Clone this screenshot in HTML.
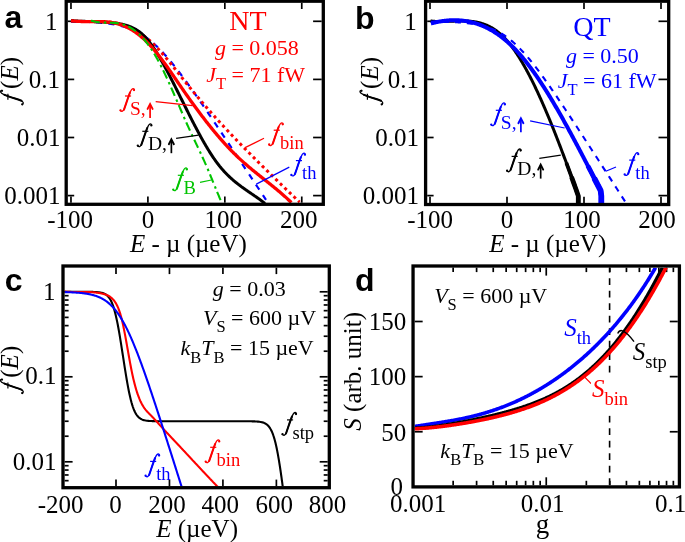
<!DOCTYPE html><html><head><meta charset="utf-8"><style>html,body{margin:0;padding:0;background:#fff;overflow:hidden}svg{display:block;will-change:transform}</style></head><body><svg width="685" height="542" viewBox="0 0 685 542"><line x1="67.80" y1="21.30" x2="74.20" y2="21.30" stroke="#000" stroke-width="1.7" /><line x1="313.10" y1="21.30" x2="321.70" y2="21.30" stroke="#000" stroke-width="1.7" /><line x1="67.80" y1="79.40" x2="74.20" y2="79.40" stroke="#000" stroke-width="1.7" /><line x1="313.10" y1="79.40" x2="321.70" y2="79.40" stroke="#000" stroke-width="1.7" /><line x1="67.80" y1="137.50" x2="74.20" y2="137.50" stroke="#000" stroke-width="1.7" /><line x1="313.10" y1="137.50" x2="321.70" y2="137.50" stroke="#000" stroke-width="1.7" /><line x1="67.80" y1="195.60" x2="74.20" y2="195.60" stroke="#000" stroke-width="1.7" /><line x1="313.10" y1="195.60" x2="321.70" y2="195.60" stroke="#000" stroke-width="1.7" /><line x1="70.97" y1="202.70" x2="70.97" y2="196.50" stroke="#000" stroke-width="1.7" /><line x1="70.97" y1="2.80" x2="70.97" y2="9.00" stroke="#000" stroke-width="1.7" /><line x1="147.90" y1="202.70" x2="147.90" y2="196.50" stroke="#000" stroke-width="1.7" /><line x1="147.90" y1="2.80" x2="147.90" y2="9.00" stroke="#000" stroke-width="1.7" /><line x1="224.83" y1="202.70" x2="224.83" y2="196.50" stroke="#000" stroke-width="1.7" /><line x1="224.83" y1="2.80" x2="224.83" y2="9.00" stroke="#000" stroke-width="1.7" /><line x1="301.76" y1="202.70" x2="301.76" y2="196.50" stroke="#000" stroke-width="1.7" /><line x1="301.76" y1="2.80" x2="301.76" y2="9.00" stroke="#000" stroke-width="1.7" /><path d="M71.00,21.55 L71.98,21.57 L72.96,21.58 L73.94,21.60 L74.92,21.62 L75.90,21.64 L76.88,21.66 L77.86,21.68 L78.84,21.70 L79.82,21.72 L80.80,21.75 L81.78,21.78 L82.76,21.80 L83.74,21.83 L84.72,21.87 L85.70,21.90 L86.68,21.94 L87.66,21.97 L88.64,22.01 L89.62,22.06 L90.60,22.10 L91.58,22.15 L92.56,22.20 L93.54,22.25 L94.52,22.31 L95.50,22.37 L96.48,22.43 L97.46,22.50 L98.44,22.57 L99.42,22.65 L100.40,22.73 L101.38,22.81 L102.36,22.90 L103.34,22.99 L104.32,23.09 L105.30,23.19 L106.28,23.30 L107.26,23.42 L108.24,23.54 L109.22,23.67 L110.20,23.81 L111.18,23.95 L112.16,24.10 L113.14,24.26 L114.12,24.43 L115.10,24.61 L116.08,24.80 L117.06,24.99 L118.04,25.20 L119.02,25.42 L119.99,25.65 L120.97,25.89 L121.95,26.14 L122.93,26.40 L123.91,26.68 L124.89,26.97 L125.87,27.28 L126.85,27.60 L127.83,27.93 L128.81,28.28 L129.79,28.65 L130.77,29.03 L131.75,29.43 L132.73,29.85 L133.71,30.28 L134.69,30.73 L135.67,31.21 L136.65,31.70 L137.63,32.21 L138.61,32.74 L139.59,33.28 L140.57,33.86 L141.55,34.45 L142.53,35.06 L143.51,35.69 L144.49,36.35 L145.47,37.02 L146.45,37.72 L147.43,38.44 L148.41,39.18 L149.39,39.94 L150.37,40.73 L151.35,41.53 L152.33,42.36 L153.31,43.21 L154.29,44.08 L155.27,44.97 L156.25,45.88 L157.23,46.81 L158.21,47.77 L159.19,48.74 L160.17,49.73 L161.15,50.74 L162.13,51.77 L163.11,52.82 L164.09,53.88 L165.07,54.97 L166.05,56.06 L167.03,57.18 L168.01,58.31 L168.99,59.46 L169.97,60.62 L170.95,61.80 L171.93,62.99 L172.91,64.19 L173.89,65.41 L174.87,66.64 L175.85,67.88 L176.83,69.13 L177.81,70.40 L178.79,71.67 L179.77,72.96 L180.75,74.25 L181.73,75.56 L182.71,76.87 L183.69,78.19 L184.67,79.52 L185.65,80.86 L186.63,82.20 L187.61,83.55 L188.59,84.91 L189.57,86.28 L190.55,87.65 L191.53,89.03 L192.51,90.41 L193.49,91.80 L194.47,93.19 L195.45,94.59 L196.43,95.99 L197.41,97.40 L198.39,98.81 L199.37,100.22 L200.35,101.64 L201.33,103.06 L202.31,104.49 L203.29,105.91 L204.27,107.34 L205.25,108.78 L206.23,110.21 L207.21,111.65 L208.19,113.09 L209.17,114.54 L210.15,115.98 L211.13,117.43 L212.11,118.88 L213.09,120.33 L214.07,121.78 L215.05,123.24 L216.03,124.69 L217.01,126.15 L217.98,127.61 L218.96,129.07 L219.94,130.53 L220.92,131.99 L221.90,133.45 L222.88,134.92 L223.86,136.38 L224.84,137.85 L225.82,139.32 L226.80,140.79 L227.78,142.25 L228.76,143.72 L229.74,145.19 L230.72,146.66 L231.70,148.13 L232.68,149.61 L233.66,151.08 L234.64,152.55 L235.62,154.02 L236.60,155.50 L237.58,156.97 L238.56,158.45 L239.54,159.92 L240.52,161.40 L241.50,162.87 L242.48,164.35 L243.46,165.82 L244.44,167.30 L245.42,168.78 L246.40,170.25 L247.38,171.73 L248.36,173.21 L249.34,174.69 L250.32,176.16 L251.30,177.64 L252.28,179.12 L253.26,180.60 L254.24,182.08 L255.22,183.56 L256.20,185.03 L257.18,186.51 L258.16,187.99 L259.14,189.47 L260.12,190.95 L261.10,192.43 L262.08,193.91 L263.06,195.39 L264.04,196.87 L265.02,198.35 L266.00,199.83" fill="none" stroke="#0000ff" stroke-width="2.2" stroke-linejoin="round" stroke-linecap="butt" stroke-dasharray="6 6.5" /><path d="M71.00,20.72 L71.57,20.79 L72.15,20.86 L72.72,20.93 L73.29,20.99 L73.86,21.05 L74.44,21.10 L75.01,21.15 L75.58,21.20 L76.16,21.24 L76.73,21.28 L77.30,21.32 L77.88,21.35 L78.45,21.38 L79.02,21.41 L79.59,21.43 L80.17,21.45 L80.74,21.47 L81.31,21.49 L81.89,21.50 L82.46,21.51 L83.03,21.52 L83.60,21.53 L84.18,21.54 L84.75,21.54 L85.32,21.55 L85.90,21.55 L86.47,21.55 L87.04,21.55 L87.62,21.55 L88.19,21.54 L88.76,21.54 L89.33,21.53 L89.91,21.53 L90.48,21.52 L91.05,21.52 L91.63,21.51 L92.20,21.51 L92.77,21.50 L93.34,21.50 L93.92,21.49 L94.49,21.49 L95.06,21.48 L95.64,21.48 L96.21,21.47 L96.78,21.47 L97.35,21.47 L97.93,21.47 L98.50,21.48 L99.07,21.48 L99.65,21.48 L100.22,21.49 L100.79,21.50 L101.37,21.51 L101.94,21.52 L102.51,21.54 L103.08,21.56 L103.66,21.58 L104.23,21.60 L104.80,21.62 L105.38,21.65 L105.95,21.68 L106.52,21.72 L107.09,21.75 L107.67,21.79 L108.24,21.84 L108.81,21.88 L109.39,21.93 L109.96,21.99 L110.53,22.05 L111.11,22.11 L111.68,22.18 L112.25,22.25 L112.82,22.32 L113.40,22.40 L113.97,22.49 L114.54,22.57 L115.12,22.67 L115.69,22.77 L116.26,22.87 L116.83,22.98 L117.41,23.09 L117.98,23.21 L118.55,23.34 L119.13,23.47 L119.70,23.60 L120.27,23.75 L120.85,23.90 L121.42,24.05 L121.99,24.21 L122.56,24.38 L123.14,24.55 L123.71,24.73 L124.28,24.92 L124.86,25.11 L125.43,25.31 L126.00,25.52 L126.57,25.74 L127.15,25.96 L127.72,26.19 L128.29,26.42 L128.87,26.67 L129.44,26.92 L130.01,27.18 L130.58,27.45 L131.16,27.73 L131.73,28.01 L132.30,28.30 L132.88,28.60 L133.45,28.91 L134.02,29.22 L134.60,29.54 L135.17,29.87 L135.74,30.21 L136.31,30.55 L136.89,30.90 L137.46,31.26 L138.03,31.63 L138.61,32.00 L139.18,32.38 L139.75,32.77 L140.32,33.17 L140.90,33.57 L141.47,33.98 L142.04,34.40 L142.62,34.82 L143.19,35.25 L143.76,35.69 L144.34,36.13 L144.91,36.59 L145.48,37.05 L146.05,37.51 L146.63,37.99 L147.20,38.47 L147.77,38.95 L148.35,39.45 L148.92,39.95 L149.49,40.45 L150.06,40.97 L150.64,41.49 L151.21,42.02 L151.78,42.55 L152.36,43.09 L152.93,43.64 L153.50,44.20 L154.08,44.76 L154.65,45.32 L155.22,45.90 L155.79,46.48 L156.37,47.07 L156.94,47.66 L157.51,48.26 L158.09,48.86 L158.66,49.48 L159.23,50.10 L159.80,50.72 L160.38,51.35 L160.95,51.99 L161.52,52.63 L162.10,53.27 L162.67,53.93 L163.24,54.58 L163.82,55.24 L164.39,55.91 L164.96,56.58 L165.53,57.26 L166.11,57.93 L166.68,58.62 L167.25,59.30 L167.83,59.99 L168.40,60.69 L168.97,61.39 L169.54,62.09 L170.12,62.79 L170.69,63.49 L171.26,64.20 L171.84,64.91 L172.41,65.63 L172.98,66.34 L173.55,67.06 L174.13,67.78 L174.70,68.50 L175.27,69.22 L175.85,69.94 L176.42,70.67 L176.99,71.39 L177.57,72.12 L178.14,72.85 L178.71,73.57 L179.28,74.30 L179.86,75.03 L180.43,75.75 L181.00,76.48 L181.58,77.21 L182.15,77.93 L182.72,78.66 L183.29,79.38 L183.87,80.11 L184.44,80.83 L185.01,81.55 L185.59,82.27 L186.16,82.99 L186.73,83.70 L187.31,84.41 L187.88,85.13 L188.45,85.84 L189.02,86.54 L189.60,87.25 L190.17,87.96 L190.74,88.66 L191.32,89.36 L191.89,90.06 L192.46,90.76 L193.03,91.45 L193.61,92.15 L194.18,92.84 L194.75,93.53 L195.33,94.22 L195.90,94.91 L196.47,95.60 L197.05,96.28 L197.62,96.96 L198.19,97.64 L198.76,98.32 L199.34,99.00 L199.91,99.68 L200.48,100.35 L201.06,101.03 L201.63,101.70 L202.20,102.37 L202.77,103.04 L203.35,103.71 L203.92,104.37 L204.49,105.04 L205.07,105.70 L205.64,106.36 L206.21,107.02 L206.78,107.68 L207.36,108.33 L207.93,108.99 L208.50,109.64 L209.08,110.30 L209.65,110.95 L210.22,111.60 L210.80,112.24 L211.37,112.89 L211.94,113.54 L212.51,114.18 L213.09,114.82 L213.66,115.47 L214.23,116.11 L214.81,116.74 L215.38,117.38 L215.95,118.02 L216.52,118.65 L217.10,119.29 L217.67,119.92 L218.24,120.55 L218.82,121.18 L219.39,121.81 L219.96,122.43 L220.54,123.06 L221.11,123.68 L221.68,124.31 L222.25,124.93 L222.83,125.55 L223.40,126.17 L223.97,126.79 L224.55,127.41 L225.12,128.02 L225.69,128.64 L226.26,129.25 L226.84,129.87 L227.41,130.48 L227.98,131.09 L228.56,131.70 L229.13,132.31 L229.70,132.91 L230.28,133.52 L230.85,134.12 L231.42,134.73 L231.99,135.33 L232.57,135.93 L233.14,136.54 L233.71,137.14 L234.29,137.73 L234.86,138.33 L235.43,138.93 L236.00,139.53 L236.58,140.12 L237.15,140.71 L237.72,141.31 L238.30,141.90 L238.87,142.49 L239.44,143.08 L240.02,143.67 L240.59,144.26 L241.16,144.85 L241.73,145.43 L242.31,146.02 L242.88,146.61 L243.45,147.19 L244.03,147.77 L244.60,148.36 L245.17,148.94 L245.74,149.52 L246.32,150.10 L246.89,150.68 L247.46,151.26 L248.04,151.84 L248.61,152.41 L249.18,152.99 L249.75,153.56 L250.33,154.14 L250.90,154.71 L251.47,155.29 L252.05,155.86 L252.62,156.43 L253.19,157.01 L253.77,157.58 L254.34,158.15 L254.91,158.72 L255.48,159.29 L256.06,159.86 L256.63,160.43 L257.20,161.00 L257.78,161.56 L258.35,162.13 L258.92,162.70 L259.49,163.27 L260.07,163.83 L260.64,164.40 L261.21,164.96 L261.79,165.53 L262.36,166.09 L262.93,166.66 L263.51,167.22 L264.08,167.79 L264.65,168.35 L265.22,168.91 L265.80,169.48 L266.37,170.04 L266.94,170.60 L267.52,171.16 L268.09,171.73 L268.66,172.29 L269.23,172.85 L269.81,173.41 L270.38,173.97 L270.95,174.53 L271.53,175.10 L272.10,175.66 L272.67,176.22 L273.25,176.78 L273.82,177.34 L274.39,177.90 L274.96,178.46 L275.54,179.02 L276.11,179.58 L276.68,180.14 L277.26,180.70 L277.83,181.26 L278.40,181.82 L278.97,182.38 L279.55,182.94 L280.12,183.49 L280.69,184.05 L281.27,184.61 L281.84,185.16 L282.41,185.72 L282.98,186.28 L283.56,186.83 L284.13,187.38 L284.70,187.94 L285.28,188.49 L285.85,189.04 L286.42,189.60 L287.00,190.15 L287.57,190.70 L288.14,191.25 L288.71,191.79 L289.29,192.34 L289.86,192.89 L290.43,193.44 L291.01,193.98 L291.58,194.53 L292.15,195.07 L292.72,195.61 L293.30,196.15 L293.87,196.69 L294.44,197.23 L295.02,197.77 L295.59,198.31 L296.16,198.85 L296.74,199.38 L297.31,199.92 L297.88,200.45 L298.45,200.98 L299.03,201.51 L299.60,202.04" fill="none" stroke="#ff0000" stroke-width="3.0" stroke-linejoin="round" stroke-linecap="butt" stroke-dasharray="3 3.3" /><path d="M71.00,20.69 L71.49,20.72 L71.97,20.76 L72.46,20.79 L72.94,20.83 L73.43,20.86 L73.92,20.89 L74.40,20.92 L74.89,20.95 L75.38,20.98 L75.86,21.01 L76.35,21.03 L76.83,21.06 L77.32,21.08 L77.81,21.10 L78.29,21.13 L78.78,21.15 L79.27,21.17 L79.75,21.19 L80.24,21.21 L80.72,21.23 L81.21,21.24 L81.70,21.26 L82.18,21.28 L82.67,21.29 L83.16,21.31 L83.64,21.33 L84.13,21.34 L84.61,21.36 L85.10,21.37 L85.59,21.38 L86.07,21.40 L86.56,21.41 L87.05,21.42 L87.53,21.44 L88.02,21.45 L88.50,21.46 L88.99,21.48 L89.48,21.49 L89.96,21.50 L90.45,21.51 L90.93,21.53 L91.42,21.54 L91.91,21.55 L92.39,21.57 L92.88,21.58 L93.37,21.60 L93.85,21.61 L94.34,21.63 L94.82,21.64 L95.31,21.66 L95.80,21.67 L96.28,21.69 L96.77,21.71 L97.26,21.73 L97.74,21.75 L98.23,21.76 L98.71,21.79 L99.20,21.81 L99.69,21.83 L100.17,21.85 L100.66,21.87 L101.15,21.90 L101.63,21.92 L102.12,21.95 L102.60,21.98 L103.09,22.00 L103.58,22.03 L104.06,22.06 L104.55,22.10 L105.04,22.13 L105.52,22.16 L106.01,22.20 L106.49,22.23 L106.98,22.27 L107.47,22.31 L107.95,22.35 L108.44,22.39 L108.92,22.44 L109.41,22.48 L109.90,22.53 L110.38,22.58 L110.87,22.63 L111.36,22.68 L111.84,22.73 L112.33,22.79 L112.81,22.85 L113.30,22.90 L113.79,22.96 L114.27,23.03 L114.76,23.09 L115.25,23.16 L115.73,23.23 L116.22,23.30 L116.70,23.37 L117.19,23.45 L117.68,23.52 L118.16,23.60 L118.65,23.68 L119.14,23.77 L119.62,23.85 L120.11,23.94 L120.59,24.03 L121.08,24.13 L121.57,24.22 L122.05,24.32 L122.54,24.42 L123.03,24.53 L123.51,24.64 L124.00,24.76 L124.48,24.88 L124.97,25.00 L125.46,25.13 L125.94,25.26 L126.43,25.40 L126.91,25.55 L127.40,25.69 L127.89,25.85 L128.37,26.01 L128.86,26.18 L129.35,26.36 L129.83,26.54 L130.32,26.73 L130.80,26.92 L131.29,27.12 L131.78,27.34 L132.26,27.55 L132.75,27.78 L133.24,28.02 L133.72,28.26 L134.21,28.51 L134.69,28.77 L135.18,29.05 L135.67,29.33 L136.15,29.62 L136.64,29.92 L137.13,30.23 L137.61,30.55 L138.10,30.88 L138.58,31.22 L139.07,31.57 L139.56,31.94 L140.04,32.31 L140.53,32.70 L141.02,33.10 L141.50,33.51 L141.99,33.94 L142.47,34.37 L142.96,34.82 L143.45,35.28 L143.93,35.76 L144.42,36.25 L144.90,36.75 L145.39,37.27 L145.88,37.80 L146.36,38.34 L146.85,38.90 L147.34,39.47 L147.82,40.05 L148.31,40.64 L148.79,41.25 L149.28,41.87 L149.77,42.50 L150.25,43.14 L150.74,43.80 L151.23,44.46 L151.71,45.14 L152.20,45.82 L152.68,46.52 L153.17,47.23 L153.66,47.95 L154.14,48.67 L154.63,49.41 L155.12,50.16 L155.60,50.91 L156.09,51.68 L156.57,52.45 L157.06,53.23 L157.55,54.03 L158.03,54.82 L158.52,55.63 L159.01,56.45 L159.49,57.27 L159.98,58.10 L160.46,58.94 L160.95,59.78 L161.44,60.63 L161.92,61.49 L162.41,62.35 L162.89,63.22 L163.38,64.10 L163.87,64.98 L164.35,65.87 L164.84,66.76 L165.33,67.66 L165.81,68.56 L166.30,69.47 L166.78,70.38 L167.27,71.30 L167.76,72.22 L168.24,73.14 L168.73,74.07 L169.22,75.00 L169.70,75.93 L170.19,76.87 L170.67,77.81 L171.16,78.75 L171.65,79.70 L172.13,80.65 L172.62,81.60 L173.11,82.55 L173.59,83.51 L174.08,84.47 L174.56,85.43 L175.05,86.39 L175.54,87.36 L176.02,88.32 L176.51,89.29 L176.99,90.26 L177.48,91.23 L177.97,92.20 L178.45,93.17 L178.94,94.15 L179.43,95.12 L179.91,96.09 L180.40,97.07 L180.88,98.05 L181.37,99.02 L181.86,100.00 L182.34,100.97 L182.83,101.95 L183.32,102.93 L183.80,103.90 L184.29,104.88 L184.77,105.85 L185.26,106.83 L185.75,107.80 L186.23,108.77 L186.72,109.74 L187.21,110.71 L187.69,111.68 L188.18,112.65 L188.66,113.61 L189.15,114.58 L189.64,115.54 L190.12,116.50 L190.61,117.46 L191.10,118.41 L191.58,119.37 L192.07,120.32 L192.55,121.27 L193.04,122.21 L193.53,123.15 L194.01,124.09 L194.50,125.03 L194.98,125.96 L195.47,126.89 L195.96,127.82 L196.44,128.74 L196.93,129.66 L197.42,130.58 L197.90,131.49 L198.39,132.40 L198.87,133.30 L199.36,134.20 L199.85,135.09 L200.33,135.98 L200.82,136.87 L201.31,137.75 L201.79,138.62 L202.28,139.49 L202.76,140.36 L203.25,141.22 L203.74,142.07 L204.22,142.92 L204.71,143.76 L205.20,144.60 L205.68,145.43 L206.17,146.25 L206.65,147.07 L207.14,147.88 L207.63,148.69 L208.11,149.49 L208.60,150.28 L209.09,151.06 L209.57,151.84 L210.06,152.61 L210.54,153.38 L211.03,154.13 L211.52,154.88 L212.00,155.62 L212.49,156.36 L212.97,157.08 L213.46,157.80 L213.95,158.51 L214.43,159.21 L214.92,159.90 L215.41,160.59 L215.89,161.26 L216.38,161.93 L216.86,162.59 L217.35,163.24 L217.84,163.88 L218.32,164.51 L218.81,165.13 L219.30,165.74 L219.78,166.35 L220.27,166.94 L220.75,167.53 L221.24,168.11 L221.73,168.68 L222.21,169.25 L222.70,169.80 L223.19,170.35 L223.67,170.89 L224.16,171.43 L224.64,171.95 L225.13,172.47 L225.62,172.98 L226.10,173.49 L226.59,173.99 L227.08,174.48 L227.56,174.97 L228.05,175.45 L228.53,175.92 L229.02,176.39 L229.51,176.85 L229.99,177.30 L230.48,177.75 L230.96,178.20 L231.45,178.64 L231.94,179.07 L232.42,179.50 L232.91,179.92 L233.40,180.34 L233.88,180.76 L234.37,181.17 L234.85,181.57 L235.34,181.97 L235.83,182.37 L236.31,182.76 L236.80,183.15 L237.29,183.53 L237.77,183.92 L238.26,184.29 L238.74,184.67 L239.23,185.04 L239.72,185.41 L240.20,185.77 L240.69,186.13 L241.18,186.49 L241.66,186.85 L242.15,187.20 L242.63,187.55 L243.12,187.90 L243.61,188.25 L244.09,188.60 L244.58,188.94 L245.07,189.28 L245.55,189.62 L246.04,189.96 L246.52,190.30 L247.01,190.64 L247.50,190.97 L247.98,191.31 L248.47,191.64 L248.95,191.97 L249.44,192.31 L249.93,192.64 L250.41,192.97 L250.90,193.30 L251.39,193.63 L251.87,193.97 L252.36,194.30 L252.84,194.63 L253.33,194.97 L253.82,195.30 L254.30,195.64 L254.79,195.97 L255.28,196.31 L255.76,196.65 L256.25,196.99 L256.73,197.33 L257.22,197.67 L257.71,198.02 L258.19,198.36 L258.68,198.71 L259.17,199.06 L259.65,199.41 L260.14,199.77 L260.62,200.13 L261.11,200.49 L261.60,200.85 L262.08,201.22 L262.57,201.59 L263.06,201.96 L263.54,202.34 L264.03,202.72 L264.51,203.10 L265.00,203.49" fill="none" stroke="#000" stroke-width="3.0" stroke-linejoin="round" stroke-linecap="butt" /><path d="M71.00,20.70 L71.55,20.77 L72.10,20.84 L72.66,20.91 L73.21,20.97 L73.76,21.03 L74.31,21.08 L74.87,21.13 L75.42,21.18 L75.97,21.22 L76.52,21.27 L77.08,21.30 L77.63,21.34 L78.18,21.37 L78.73,21.40 L79.29,21.42 L79.84,21.44 L80.39,21.47 L80.94,21.48 L81.50,21.50 L82.05,21.51 L82.60,21.53 L83.15,21.54 L83.70,21.54 L84.26,21.55 L84.81,21.56 L85.36,21.56 L85.91,21.56 L86.47,21.57 L87.02,21.57 L87.57,21.57 L88.12,21.57 L88.68,21.56 L89.23,21.56 L89.78,21.56 L90.33,21.56 L90.89,21.56 L91.44,21.55 L91.99,21.55 L92.54,21.55 L93.10,21.55 L93.65,21.55 L94.20,21.55 L94.75,21.55 L95.30,21.55 L95.86,21.55 L96.41,21.55 L96.96,21.56 L97.51,21.57 L98.07,21.57 L98.62,21.58 L99.17,21.59 L99.72,21.61 L100.28,21.62 L100.83,21.64 L101.38,21.66 L101.93,21.68 L102.49,21.70 L103.04,21.73 L103.59,21.76 L104.14,21.79 L104.70,21.83 L105.25,21.87 L105.80,21.91 L106.35,21.96 L106.90,22.00 L107.46,22.06 L108.01,22.11 L108.56,22.17 L109.11,22.24 L109.67,22.31 L110.22,22.38 L110.77,22.46 L111.32,22.54 L111.88,22.62 L112.43,22.72 L112.98,22.81 L113.53,22.91 L114.09,23.02 L114.64,23.13 L115.19,23.25 L115.74,23.37 L116.30,23.50 L116.85,23.63 L117.40,23.77 L117.95,23.91 L118.50,24.07 L119.06,24.22 L119.61,24.39 L120.16,24.56 L120.71,24.74 L121.27,24.92 L121.82,25.11 L122.37,25.31 L122.92,25.51 L123.48,25.73 L124.03,25.95 L124.58,26.17 L125.13,26.41 L125.69,26.65 L126.24,26.90 L126.79,27.16 L127.34,27.42 L127.90,27.70 L128.45,27.98 L129.00,28.27 L129.55,28.57 L130.10,28.88 L130.66,29.19 L131.21,29.52 L131.76,29.85 L132.31,30.19 L132.87,30.53 L133.42,30.89 L133.97,31.25 L134.52,31.62 L135.08,32.00 L135.63,32.39 L136.18,32.78 L136.73,33.18 L137.29,33.60 L137.84,34.01 L138.39,34.44 L138.94,34.87 L139.50,35.32 L140.05,35.77 L140.60,36.22 L141.15,36.69 L141.70,37.16 L142.26,37.64 L142.81,38.13 L143.36,38.63 L143.91,39.13 L144.47,39.64 L145.02,40.16 L145.57,40.69 L146.12,41.23 L146.68,41.77 L147.23,42.32 L147.78,42.88 L148.33,43.44 L148.89,44.02 L149.44,44.60 L149.99,45.18 L150.54,45.78 L151.10,46.38 L151.65,47.00 L152.20,47.61 L152.75,48.24 L153.30,48.87 L153.86,49.52 L154.41,50.16 L154.96,50.82 L155.51,51.48 L156.07,52.15 L156.62,52.83 L157.17,53.52 L157.72,54.21 L158.28,54.91 L158.83,55.61 L159.38,56.32 L159.93,57.04 L160.49,57.76 L161.04,58.48 L161.59,59.22 L162.14,59.96 L162.70,60.70 L163.25,61.45 L163.80,62.20 L164.35,62.95 L164.90,63.72 L165.46,64.48 L166.01,65.25 L166.56,66.02 L167.11,66.80 L167.67,67.58 L168.22,68.36 L168.77,69.14 L169.32,69.93 L169.88,70.72 L170.43,71.52 L170.98,72.31 L171.53,73.11 L172.09,73.91 L172.64,74.71 L173.19,75.51 L173.74,76.31 L174.30,77.12 L174.85,77.92 L175.40,78.73 L175.95,79.53 L176.50,80.34 L177.06,81.15 L177.61,81.95 L178.16,82.76 L178.71,83.57 L179.27,84.37 L179.82,85.18 L180.37,85.98 L180.92,86.78 L181.48,87.59 L182.03,88.39 L182.58,89.18 L183.13,89.98 L183.69,90.77 L184.24,91.57 L184.79,92.36 L185.34,93.15 L185.90,93.94 L186.45,94.72 L187.00,95.51 L187.55,96.29 L188.10,97.07 L188.66,97.85 L189.21,98.63 L189.76,99.40 L190.31,100.17 L190.87,100.94 L191.42,101.71 L191.97,102.48 L192.52,103.25 L193.08,104.01 L193.63,104.77 L194.18,105.53 L194.73,106.29 L195.29,107.04 L195.84,107.79 L196.39,108.54 L196.94,109.29 L197.50,110.04 L198.05,110.78 L198.60,111.52 L199.15,112.26 L199.70,113.00 L200.26,113.73 L200.81,114.47 L201.36,115.20 L201.91,115.92 L202.47,116.65 L203.02,117.37 L203.57,118.09 L204.12,118.81 L204.68,119.52 L205.23,120.24 L205.78,120.95 L206.33,121.65 L206.89,122.36 L207.44,123.06 L207.99,123.76 L208.54,124.46 L209.10,125.15 L209.65,125.84 L210.20,126.53 L210.75,127.22 L211.30,127.90 L211.86,128.58 L212.41,129.26 L212.96,129.94 L213.51,130.61 L214.07,131.28 L214.62,131.95 L215.17,132.61 L215.72,133.27 L216.28,133.93 L216.83,134.58 L217.38,135.24 L217.93,135.88 L218.49,136.53 L219.04,137.17 L219.59,137.81 L220.14,138.45 L220.70,139.08 L221.25,139.71 L221.80,140.34 L222.35,140.96 L222.90,141.58 L223.46,142.20 L224.01,142.82 L224.56,143.43 L225.11,144.03 L225.67,144.64 L226.22,145.24 L226.77,145.84 L227.32,146.43 L227.88,147.02 L228.43,147.61 L228.98,148.19 L229.53,148.78 L230.09,149.35 L230.64,149.93 L231.19,150.50 L231.74,151.06 L232.30,151.63 L232.85,152.18 L233.40,152.74 L233.95,153.29 L234.50,153.84 L235.06,154.39 L235.61,154.93 L236.16,155.46 L236.71,156.00 L237.27,156.53 L237.82,157.05 L238.37,157.58 L238.92,158.09 L239.48,158.61 L240.03,159.12 L240.58,159.63 L241.13,160.14 L241.69,160.64 L242.24,161.14 L242.79,161.64 L243.34,162.13 L243.90,162.62 L244.45,163.11 L245.00,163.59 L245.55,164.08 L246.10,164.56 L246.66,165.03 L247.21,165.51 L247.76,165.98 L248.31,166.45 L248.87,166.92 L249.42,167.39 L249.97,167.85 L250.52,168.31 L251.08,168.78 L251.63,169.23 L252.18,169.69 L252.73,170.15 L253.29,170.60 L253.84,171.05 L254.39,171.51 L254.94,171.96 L255.50,172.40 L256.05,172.85 L256.60,173.30 L257.15,173.74 L257.70,174.19 L258.26,174.63 L258.81,175.08 L259.36,175.52 L259.91,175.96 L260.47,176.40 L261.02,176.84 L261.57,177.28 L262.12,177.72 L262.68,178.16 L263.23,178.60 L263.78,179.04 L264.33,179.48 L264.89,179.92 L265.44,180.36 L265.99,180.80 L266.54,181.24 L267.10,181.68 L267.65,182.12 L268.20,182.56 L268.75,183.00 L269.30,183.44 L269.86,183.88 L270.41,184.33 L270.96,184.77 L271.51,185.22 L272.07,185.67 L272.62,186.11 L273.17,186.56 L273.72,187.01 L274.28,187.46 L274.83,187.92 L275.38,188.37 L275.93,188.83 L276.49,189.29 L277.04,189.75 L277.59,190.21 L278.14,190.67 L278.70,191.13 L279.25,191.60 L279.80,192.07 L280.35,192.54 L280.90,193.02 L281.46,193.49 L282.01,193.97 L282.56,194.45 L283.11,194.93 L283.67,195.42 L284.22,195.91 L284.77,196.40 L285.32,196.89 L285.88,197.39 L286.43,197.89 L286.98,198.39 L287.53,198.90 L288.09,199.41 L288.64,199.92 L289.19,200.44 L289.74,200.96 L290.30,201.48 L290.85,202.01 L291.40,202.54" fill="none" stroke="#ff0000" stroke-width="3.3" stroke-linejoin="round" stroke-linecap="butt" /><path d="M91.00,20.53 L91.33,20.64 L91.66,20.75 L91.98,20.85 L92.31,20.95 L92.64,21.04 L92.97,21.13 L93.30,21.22 L93.63,21.30 L93.95,21.38 L94.28,21.45 L94.61,21.53 L94.94,21.60 L95.27,21.66 L95.60,21.73 L95.92,21.79 L96.25,21.84 L96.58,21.90 L96.91,21.95 L97.24,22.00 L97.57,22.05 L97.89,22.09 L98.22,22.13 L98.55,22.17 L98.88,22.21 L99.21,22.25 L99.54,22.28 L99.86,22.31 L100.19,22.34 L100.52,22.37 L100.85,22.39 L101.18,22.42 L101.51,22.44 L101.83,22.46 L102.16,22.48 L102.49,22.50 L102.82,22.51 L103.15,22.53 L103.48,22.54 L103.80,22.56 L104.13,22.57 L104.46,22.58 L104.79,22.59 L105.12,22.60 L105.45,22.61 L105.77,22.62 L106.10,22.63 L106.43,22.64 L106.76,22.65 L107.09,22.66 L107.42,22.66 L107.74,22.67 L108.07,22.68 L108.40,22.69 L108.73,22.69 L109.06,22.70 L109.39,22.71 L109.71,22.72 L110.04,22.73 L110.37,22.74 L110.70,22.75 L111.03,22.76 L111.36,22.78 L111.68,22.79 L112.01,22.81 L112.34,22.82 L112.67,22.84 L113.00,22.86 L113.33,22.88 L113.65,22.90 L113.98,22.92 L114.31,22.94 L114.64,22.97 L114.97,23.00 L115.30,23.03 L115.62,23.06 L115.95,23.09 L116.28,23.12 L116.61,23.16 L116.94,23.20 L117.27,23.24 L117.59,23.29 L117.92,23.33 L118.25,23.38 L118.58,23.44 L118.91,23.49 L119.24,23.55 L119.56,23.61 L119.89,23.67 L120.22,23.74 L120.55,23.81 L120.88,23.88 L121.21,23.96 L121.53,24.03 L121.86,24.12 L122.19,24.20 L122.52,24.29 L122.85,24.39 L123.18,24.48 L123.50,24.59 L123.83,24.69 L124.16,24.80 L124.49,24.91 L124.82,25.03 L125.15,25.15 L125.47,25.28 L125.80,25.41 L126.13,25.54 L126.46,25.68 L126.79,25.82 L127.12,25.96 L127.44,26.11 L127.77,26.27 L128.10,26.43 L128.43,26.59 L128.76,26.76 L129.09,26.93 L129.41,27.10 L129.74,27.28 L130.07,27.47 L130.40,27.65 L130.73,27.85 L131.06,28.04 L131.38,28.24 L131.71,28.45 L132.04,28.66 L132.37,28.87 L132.70,29.09 L133.03,29.31 L133.35,29.54 L133.68,29.77 L134.01,30.01 L134.34,30.25 L134.67,30.49 L134.99,30.74 L135.32,31.00 L135.65,31.25 L135.98,31.52 L136.31,31.78 L136.64,32.06 L136.96,32.33 L137.29,32.61 L137.62,32.90 L137.95,33.19 L138.28,33.49 L138.61,33.79 L138.93,34.09 L139.26,34.40 L139.59,34.71 L139.92,35.03 L140.25,35.36 L140.58,35.68 L140.90,36.02 L141.23,36.35 L141.56,36.70 L141.89,37.04 L142.22,37.40 L142.55,37.75 L142.87,38.11 L143.20,38.48 L143.53,38.85 L143.86,39.23 L144.19,39.61 L144.52,39.99 L144.84,40.39 L145.17,40.78 L145.50,41.18 L145.83,41.59 L146.16,42.00 L146.49,42.42 L146.81,42.84 L147.14,43.26 L147.47,43.69 L147.80,44.13 L148.13,44.57 L148.46,45.02 L148.78,45.47 L149.11,45.92 L149.44,46.39 L149.77,46.85 L150.10,47.32 L150.43,47.80 L150.75,48.28 L151.08,48.77 L151.41,49.26 L151.74,49.76 L152.07,50.27 L152.40,50.77 L152.72,51.29 L153.05,51.81 L153.38,52.33 L153.71,52.86 L154.04,53.40 L154.37,53.94 L154.69,54.48 L155.02,55.04 L155.35,55.59 L155.68,56.15 L156.01,56.72 L156.34,57.30 L156.66,57.87 L156.99,58.46 L157.32,59.05 L157.65,59.64 L157.98,60.24 L158.31,60.85 L158.63,61.46 L158.96,62.07 L159.29,62.69 L159.62,63.32 L159.95,63.94 L160.28,64.58 L160.60,65.22 L160.93,65.86 L161.26,66.51 L161.59,67.16 L161.92,67.81 L162.25,68.47 L162.57,69.14 L162.90,69.81 L163.23,70.48 L163.56,71.15 L163.89,71.83 L164.22,72.51 L164.54,73.20 L164.87,73.89 L165.20,74.58 L165.53,75.28 L165.86,75.98 L166.19,76.68 L166.51,77.39 L166.84,78.10 L167.17,78.81 L167.50,79.53 L167.83,80.24 L168.16,80.96 L168.48,81.69 L168.81,82.41 L169.14,83.14 L169.47,83.87 L169.80,84.60 L170.13,85.34 L170.45,86.07 L170.78,86.81 L171.11,87.55 L171.44,88.29 L171.77,89.04 L172.10,89.78 L172.42,90.53 L172.75,91.28 L173.08,92.03 L173.41,92.78 L173.74,93.53 L174.07,94.29 L174.39,95.04 L174.72,95.80 L175.05,96.55 L175.38,97.31 L175.71,98.07 L176.04,98.83 L176.36,99.59 L176.69,100.35 L177.02,101.11 L177.35,101.87 L177.68,102.63 L178.01,103.40 L178.33,104.16 L178.66,104.92 L178.99,105.68 L179.32,106.44 L179.65,107.20 L179.97,107.97 L180.30,108.73 L180.63,109.49 L180.96,110.25 L181.29,111.01 L181.62,111.76 L181.94,112.52 L182.27,113.28 L182.60,114.03 L182.93,114.79 L183.26,115.54 L183.59,116.30 L183.91,117.05 L184.24,117.80 L184.57,118.55 L184.90,119.29 L185.23,120.04 L185.56,120.78 L185.88,121.52 L186.21,122.26 L186.54,123.00 L186.87,123.74 L187.20,124.47 L187.53,125.20 L187.85,125.93 L188.18,126.66 L188.51,127.39 L188.84,128.11 L189.17,128.83 L189.50,129.55 L189.82,130.26 L190.15,130.97 L190.48,131.68 L190.81,132.39 L191.14,133.09 L191.47,133.80 L191.79,134.50 L192.12,135.20 L192.45,135.90 L192.78,136.60 L193.11,137.29 L193.44,137.99 L193.76,138.68 L194.09,139.37 L194.42,140.07 L194.75,140.76 L195.08,141.45 L195.41,142.14 L195.73,142.83 L196.06,143.52 L196.39,144.21 L196.72,144.90 L197.05,145.59 L197.38,146.29 L197.70,146.98 L198.03,147.67 L198.36,148.37 L198.69,149.06 L199.02,149.76 L199.35,150.45 L199.67,151.15 L200.00,151.85 L200.33,152.55 L200.66,153.26 L200.99,153.96 L201.32,154.67 L201.64,155.38 L201.97,156.09 L202.30,156.81 L202.63,157.52 L202.96,158.24 L203.29,158.97 L203.61,159.69 L203.94,160.42 L204.27,161.15 L204.60,161.89 L204.93,162.63 L205.26,163.37 L205.58,164.12 L205.91,164.87 L206.24,165.62 L206.57,166.38 L206.90,167.14 L207.23,167.91 L207.55,168.68 L207.88,169.45 L208.21,170.23 L208.54,171.01 L208.87,171.79 L209.20,172.57 L209.52,173.36 L209.85,174.15 L210.18,174.94 L210.51,175.74 L210.84,176.53 L211.17,177.33 L211.49,178.13 L211.82,178.93 L212.15,179.73 L212.48,180.53 L212.81,181.33 L213.14,182.14 L213.46,182.94 L213.79,183.74 L214.12,184.55 L214.45,185.35 L214.78,186.15 L215.11,186.96 L215.43,187.76 L215.76,188.56 L216.09,189.36 L216.42,190.16 L216.75,190.96 L217.08,191.76 L217.40,192.55 L217.73,193.35 L218.06,194.14 L218.39,194.93 L218.72,195.72 L219.05,196.50 L219.37,197.28 L219.70,198.06 L220.03,198.84 L220.36,199.61 L220.69,200.38 L221.02,201.14 L221.34,201.91 L221.67,202.66 L222.00,203.42" fill="none" stroke="#00c400" stroke-width="2.1" stroke-linejoin="round" stroke-linecap="butt" stroke-dasharray="9 4 2.5 3.5" /><line x1="155.70" y1="101.60" x2="192.60" y2="105.70" stroke="#ff0000" stroke-width="1.2" /><line x1="176.10" y1="138.40" x2="198.60" y2="135.10" stroke="#000" stroke-width="1.2" /><line x1="200.00" y1="182.40" x2="211.40" y2="180.00" stroke="#00c400" stroke-width="1.2" /><line x1="245.10" y1="147.60" x2="264.00" y2="138.30" stroke="#ff0000" stroke-width="1.2" /><line x1="256.30" y1="184.10" x2="289.30" y2="167.10" stroke="#0000ff" stroke-width="1.2" /><rect x="66.2" y="1.2" width="257.1" height="203.10000000000002" fill="none" stroke="#000" stroke-width="3.3"/><text x="4.56" y="28.30" font-family="Liberation Sans" font-weight="bold" font-style="normal" font-size="32" fill="#000" xml:space="preserve">a</text><text x="45.00" y="29.80" font-family="Liberation Serif" font-weight="normal" font-style="normal" font-size="25" fill="#000" xml:space="preserve">1</text><text x="28.85" y="88.00" font-family="Liberation Serif" font-weight="normal" font-style="normal" font-size="25" fill="#000" xml:space="preserve">0.1</text><text x="16.65" y="146.20" font-family="Liberation Serif" font-weight="normal" font-style="normal" font-size="25" fill="#000" xml:space="preserve">0.01</text><text x="4.15" y="203.60" font-family="Liberation Serif" font-weight="normal" font-style="normal" font-size="25" fill="#000" xml:space="preserve">0.001</text><text x="47.27" y="227.90" font-family="Liberation Serif" font-weight="normal" font-style="normal" font-size="25" fill="#000" xml:space="preserve">-100</text><text x="141.75" y="227.90" font-family="Liberation Serif" font-weight="normal" font-style="normal" font-size="25" fill="#000" xml:space="preserve">0</text><text x="204.60" y="227.90" font-family="Liberation Serif" font-weight="normal" font-style="normal" font-size="25" fill="#000" xml:space="preserve">100</text><text x="279.90" y="227.90" font-family="Liberation Serif" font-weight="normal" font-style="normal" font-size="25" fill="#000" xml:space="preserve">200</text><text x="129.89" y="251.50" font-family="Liberation Serif" font-weight="normal" font-style="italic" font-size="25" fill="#000" xml:space="preserve">E</text><text x="145.16" y="251.50" font-family="Liberation Serif" font-weight="normal" font-style="normal" font-size="25" fill="#000" xml:space="preserve"> - µ (µeV)</text><g transform="translate(18,81.5) rotate(-90)"><g transform="translate(-24.30,0.50) scale(1.0)"><path d="M1.3,3.9 C2.6,5.4 4.3,4.9 5.3,2.2 C6.8,-2 9.5,-10.5 11.2,-14.5 C12.2,-16.9 13.2,-18 14.2,-18 C14.9,-18 15.4,-17.4 15.3,-16.6" fill="none" stroke="#000" stroke-width="1.3" stroke-linecap="round"/><path d="M5.0,3.0 C6.8,-2 9.5,-10.5 11.0,-14.0" fill="none" stroke="#000" stroke-width="2.0" stroke-linecap="round"/><circle cx="1.5" cy="3.7" r="1.15" fill="#000"/><circle cx="15.0" cy="-16.5" r="1.15" fill="#000"/><path d="M6.0,-10.6 L12.1,-10.6" stroke="#000" stroke-width="1.2"/></g><text x="-7.40" y="0.00" font-family="Liberation Serif" font-weight="normal" font-style="normal" font-size="25" fill="#000" xml:space="preserve">(</text><text x="0.93" y="0.00" font-family="Liberation Serif" font-weight="normal" font-style="italic" font-size="25" fill="#000" xml:space="preserve">E</text><text x="16.20" y="0.00" font-family="Liberation Serif" font-weight="normal" font-style="normal" font-size="25" fill="#000" xml:space="preserve">)</text></g><text x="229.29" y="30.30" font-family="Liberation Serif" font-weight="normal" font-style="normal" font-size="28" fill="#ff0000" xml:space="preserve">NT</text><text x="214.89" y="55.40" font-family="Liberation Serif" font-weight="normal" font-style="italic" font-size="22" fill="#ff0000" xml:space="preserve">g</text><text x="225.89" y="55.40" font-family="Liberation Serif" font-weight="normal" font-style="normal" font-size="22" fill="#ff0000" xml:space="preserve"> = 0.058</text><text x="206.17" y="82.20" font-family="Liberation Serif" font-weight="normal" font-style="italic" font-size="22" fill="#ff0000" xml:space="preserve">J</text><text x="215.93" y="88.70" font-family="Liberation Serif" font-weight="normal" font-style="normal" font-size="16.5" fill="#ff0000" xml:space="preserve">T</text><text x="226.01" y="82.20" font-family="Liberation Serif" font-weight="normal" font-style="normal" font-size="22" fill="#ff0000" xml:space="preserve"> = 71 fW</text><g transform="translate(119.00,106.60) scale(1.0)"><path d="M1.3,3.9 C2.6,5.4 4.3,4.9 5.3,2.2 C6.8,-2 9.5,-10.5 11.2,-14.5 C12.2,-16.9 13.2,-18 14.2,-18 C14.9,-18 15.4,-17.4 15.3,-16.6" fill="none" stroke="#ff0000" stroke-width="1.3" stroke-linecap="round"/><path d="M5.0,3.0 C6.8,-2 9.5,-10.5 11.0,-14.0" fill="none" stroke="#ff0000" stroke-width="2.0" stroke-linecap="round"/><circle cx="1.5" cy="3.7" r="1.15" fill="#ff0000"/><circle cx="15.0" cy="-16.5" r="1.15" fill="#ff0000"/><path d="M6.0,-10.6 L12.1,-10.6" stroke="#ff0000" stroke-width="1.2"/></g><text x="130.00" y="114.60" font-family="Liberation Serif" font-weight="normal" font-style="normal" font-size="19.5" fill="#ff0000" xml:space="preserve">S,</text><path d="M150.09,117.90 L150.09,104.70" stroke="#ff0000" stroke-width="1.7" fill="none"/><path d="M147.59,108.90 L150.09,104.00 L152.59,108.90" stroke="#ff0000" stroke-width="1.9" fill="none" stroke-linejoin="miter" stroke-linecap="round"/><g transform="translate(136.30,141.90) scale(1.0)"><path d="M1.3,3.9 C2.6,5.4 4.3,4.9 5.3,2.2 C6.8,-2 9.5,-10.5 11.2,-14.5 C12.2,-16.9 13.2,-18 14.2,-18 C14.9,-18 15.4,-17.4 15.3,-16.6" fill="none" stroke="#000" stroke-width="1.3" stroke-linecap="round"/><path d="M5.0,3.0 C6.8,-2 9.5,-10.5 11.0,-14.0" fill="none" stroke="#000" stroke-width="2.0" stroke-linecap="round"/><circle cx="1.5" cy="3.7" r="1.15" fill="#000"/><circle cx="15.0" cy="-16.5" r="1.15" fill="#000"/><path d="M6.0,-10.6 L12.1,-10.6" stroke="#000" stroke-width="1.2"/></g><text x="148.04" y="149.90" font-family="Liberation Serif" font-weight="normal" font-style="normal" font-size="19.5" fill="#000" xml:space="preserve">D,</text><path d="M171.37,153.20 L171.37,140.00" stroke="#000" stroke-width="1.7" fill="none"/><path d="M168.87,144.20 L171.37,139.30 L173.87,144.20" stroke="#000" stroke-width="1.9" fill="none" stroke-linejoin="miter" stroke-linecap="round"/><g transform="translate(171.80,185.90) scale(1.0)"><path d="M1.3,3.9 C2.6,5.4 4.3,4.9 5.3,2.2 C6.8,-2 9.5,-10.5 11.2,-14.5 C12.2,-16.9 13.2,-18 14.2,-18 C14.9,-18 15.4,-17.4 15.3,-16.6" fill="none" stroke="#00c400" stroke-width="1.3" stroke-linecap="round"/><path d="M5.0,3.0 C6.8,-2 9.5,-10.5 11.0,-14.0" fill="none" stroke="#00c400" stroke-width="2.0" stroke-linecap="round"/><circle cx="1.5" cy="3.7" r="1.15" fill="#00c400"/><circle cx="15.0" cy="-16.5" r="1.15" fill="#00c400"/><path d="M6.0,-10.6 L12.1,-10.6" stroke="#00c400" stroke-width="1.2"/></g><text x="183.57" y="193.90" font-family="Liberation Serif" font-weight="normal" font-style="normal" font-size="18.5" fill="#00c400" xml:space="preserve">B</text><g transform="translate(267.70,140.80) scale(1.0)"><path d="M1.3,3.9 C2.6,5.4 4.3,4.9 5.3,2.2 C6.8,-2 9.5,-10.5 11.2,-14.5 C12.2,-16.9 13.2,-18 14.2,-18 C14.9,-18 15.4,-17.4 15.3,-16.6" fill="none" stroke="#ff0000" stroke-width="1.3" stroke-linecap="round"/><path d="M5.0,3.0 C6.8,-2 9.5,-10.5 11.0,-14.0" fill="none" stroke="#ff0000" stroke-width="2.0" stroke-linecap="round"/><circle cx="1.5" cy="3.7" r="1.15" fill="#ff0000"/><circle cx="15.0" cy="-16.5" r="1.15" fill="#ff0000"/><path d="M6.0,-10.6 L12.1,-10.6" stroke="#ff0000" stroke-width="1.2"/></g><text x="280.00" y="148.80" font-family="Liberation Serif" font-weight="normal" font-style="normal" font-size="18.5" fill="#ff0000" xml:space="preserve">bin</text><g transform="translate(289.90,171.20) scale(1.0)"><path d="M1.3,3.9 C2.6,5.4 4.3,4.9 5.3,2.2 C6.8,-2 9.5,-10.5 11.2,-14.5 C12.2,-16.9 13.2,-18 14.2,-18 C14.9,-18 15.4,-17.4 15.3,-16.6" fill="none" stroke="#0000ff" stroke-width="1.3" stroke-linecap="round"/><path d="M5.0,3.0 C6.8,-2 9.5,-10.5 11.0,-14.0" fill="none" stroke="#0000ff" stroke-width="2.0" stroke-linecap="round"/><circle cx="1.5" cy="3.7" r="1.15" fill="#0000ff"/><circle cx="15.0" cy="-16.5" r="1.15" fill="#0000ff"/><path d="M6.0,-10.6 L12.1,-10.6" stroke="#0000ff" stroke-width="1.2"/></g><text x="302.02" y="179.20" font-family="Liberation Serif" font-weight="normal" font-style="normal" font-size="18.5" fill="#0000ff" xml:space="preserve">th</text><line x1="427.20" y1="21.30" x2="433.60" y2="21.30" stroke="#000" stroke-width="1.7" /><line x1="658.50" y1="21.30" x2="667.10" y2="21.30" stroke="#000" stroke-width="1.7" /><line x1="427.20" y1="79.40" x2="433.60" y2="79.40" stroke="#000" stroke-width="1.7" /><line x1="658.50" y1="79.40" x2="667.10" y2="79.40" stroke="#000" stroke-width="1.7" /><line x1="427.20" y1="137.50" x2="433.60" y2="137.50" stroke="#000" stroke-width="1.7" /><line x1="658.50" y1="137.50" x2="667.10" y2="137.50" stroke="#000" stroke-width="1.7" /><line x1="427.20" y1="195.60" x2="433.60" y2="195.60" stroke="#000" stroke-width="1.7" /><line x1="658.50" y1="195.60" x2="667.10" y2="195.60" stroke="#000" stroke-width="1.7" /><line x1="430.00" y1="202.90" x2="430.00" y2="196.70" stroke="#000" stroke-width="1.7" /><line x1="430.00" y1="2.80" x2="430.00" y2="9.00" stroke="#000" stroke-width="1.7" /><line x1="507.00" y1="202.90" x2="507.00" y2="196.70" stroke="#000" stroke-width="1.7" /><line x1="507.00" y1="2.80" x2="507.00" y2="9.00" stroke="#000" stroke-width="1.7" /><line x1="584.00" y1="202.90" x2="584.00" y2="196.70" stroke="#000" stroke-width="1.7" /><line x1="584.00" y1="2.80" x2="584.00" y2="9.00" stroke="#000" stroke-width="1.7" /><line x1="661.00" y1="202.90" x2="661.00" y2="196.70" stroke="#000" stroke-width="1.7" /><line x1="661.00" y1="2.80" x2="661.00" y2="9.00" stroke="#000" stroke-width="1.7" /><path d="M430.50,20.93 L430.87,20.98 L431.24,21.03 L431.61,21.07 L431.98,21.11 L432.35,21.15 L432.72,21.19 L433.09,21.22 L433.46,21.26 L433.83,21.29 L434.20,21.32 L434.57,21.34 L434.94,21.37 L435.31,21.39 L435.68,21.42 L436.05,21.44 L436.42,21.46 L436.79,21.47 L437.16,21.49 L437.53,21.50 L437.90,21.51 L438.27,21.52 L438.64,21.53 L439.01,21.54 L439.38,21.55 L439.75,21.55 L440.12,21.56 L440.49,21.56 L440.86,21.56 L441.24,21.56 L441.61,21.56 L441.98,21.56 L442.35,21.56 L442.72,21.55 L443.09,21.55 L443.46,21.54 L443.83,21.53 L444.20,21.53 L444.57,21.52 L444.94,21.51 L445.31,21.50 L445.68,21.49 L446.05,21.48 L446.42,21.46 L446.79,21.45 L447.16,21.44 L447.53,21.42 L447.90,21.41 L448.27,21.40 L448.64,21.38 L449.01,21.37 L449.38,21.35 L449.75,21.33 L450.12,21.32 L450.49,21.30 L450.86,21.29 L451.23,21.27 L451.60,21.25 L451.97,21.24 L452.34,21.22 L452.71,21.20 L453.08,21.19 L453.45,21.17 L453.82,21.15 L454.19,21.14 L454.56,21.12 L454.93,21.11 L455.30,21.09 L455.67,21.08 L456.04,21.06 L456.41,21.05 L456.78,21.04 L457.15,21.02 L457.52,21.01 L457.89,21.00 L458.26,20.99 L458.63,20.98 L459.00,20.97 L459.37,20.96 L459.74,20.95 L460.11,20.95 L460.48,20.94 L460.85,20.93 L461.22,20.93 L461.59,20.93 L461.96,20.92 L462.34,20.92 L462.71,20.92 L463.08,20.93 L463.45,20.93 L463.82,20.93 L464.19,20.94 L464.56,20.94 L464.93,20.95 L465.30,20.96 L465.67,20.97 L466.04,20.98 L466.41,21.00 L466.78,21.01 L467.15,21.03 L467.52,21.05 L467.89,21.07 L468.26,21.09 L468.63,21.11 L469.00,21.14 L469.37,21.16 L469.74,21.19 L470.11,21.22 L470.48,21.26 L470.85,21.29 L471.22,21.33 L471.59,21.37 L471.96,21.41 L472.33,21.45 L472.70,21.50 L473.07,21.54 L473.44,21.59 L473.81,21.65 L474.18,21.70 L474.55,21.76 L474.92,21.82 L475.29,21.88 L475.66,21.95 L476.03,22.01 L476.40,22.08 L476.77,22.15 L477.14,22.23 L477.51,22.31 L477.88,22.39 L478.25,22.47 L478.62,22.56 L478.99,22.65 L479.36,22.74 L479.73,22.83 L480.10,22.93 L480.47,23.03 L480.84,23.14 L481.21,23.24 L481.58,23.35 L481.95,23.47 L482.32,23.58 L482.69,23.70 L483.06,23.83 L483.44,23.95 L483.81,24.08 L484.18,24.22 L484.55,24.35 L484.92,24.50 L485.29,24.64 L485.66,24.79 L486.03,24.94 L486.40,25.09 L486.77,25.25 L487.14,25.41 L487.51,25.58 L487.88,25.75 L488.25,25.92 L488.62,26.10 L488.99,26.28 L489.36,26.47 L489.73,26.66 L490.10,26.85 L490.47,27.05 L490.84,27.25 L491.21,27.46 L491.58,27.67 L491.95,27.89 L492.32,28.10 L492.69,28.33 L493.06,28.56 L493.43,28.79 L493.80,29.02 L494.17,29.27 L494.54,29.51 L494.91,29.76 L495.28,30.02 L495.65,30.28 L496.02,30.54 L496.39,30.81 L496.76,31.08 L497.13,31.36 L497.50,31.65 L497.87,31.93 L498.24,32.23 L498.61,32.53 L498.98,32.83 L499.35,33.14 L499.72,33.45 L500.09,33.77 L500.46,34.10 L500.83,34.42 L501.20,34.76 L501.57,35.10 L501.94,35.44 L502.31,35.79 L502.68,36.15 L503.05,36.51 L503.42,36.88 L503.79,37.25 L504.16,37.63 L504.54,38.01 L504.91,38.40 L505.28,38.80 L505.65,39.20 L506.02,39.60 L506.39,40.01 L506.76,40.43 L507.13,40.85 L507.50,41.28 L507.87,41.71 L508.24,42.15 L508.61,42.60 L508.98,43.05 L509.35,43.50 L509.72,43.96 L510.09,44.43 L510.46,44.90 L510.83,45.37 L511.20,45.86 L511.57,46.34 L511.94,46.83 L512.31,47.33 L512.68,47.83 L513.05,48.34 L513.42,48.85 L513.79,49.37 L514.16,49.89 L514.53,50.42 L514.90,50.95 L515.27,51.49 L515.64,52.03 L516.01,52.58 L516.38,53.13 L516.75,53.69 L517.12,54.25 L517.49,54.81 L517.86,55.39 L518.23,55.96 L518.60,56.54 L518.97,57.13 L519.34,57.72 L519.71,58.31 L520.08,58.91 L520.45,59.52 L520.82,60.13 L521.19,60.74 L521.56,61.36 L521.93,61.98 L522.30,62.61 L522.67,63.24 L523.04,63.88 L523.41,64.52 L523.78,65.16 L524.15,65.81 L524.52,66.47 L524.89,67.13 L525.26,67.79 L525.64,68.45 L526.01,69.13 L526.38,69.80 L526.75,70.48 L527.12,71.17 L527.49,71.85 L527.86,72.55 L528.23,73.24 L528.60,73.94 L528.97,74.65 L529.34,75.36 L529.71,76.07 L530.08,76.79 L530.45,77.51 L530.82,78.23 L531.19,78.96 L531.56,79.69 L531.93,80.43 L532.30,81.17 L532.67,81.92 L533.04,82.66 L533.41,83.42 L533.78,84.17 L534.15,84.93 L534.52,85.70 L534.89,86.46 L535.26,87.23 L535.63,88.01 L536.00,88.79 L536.37,89.57 L536.74,90.35 L537.11,91.14 L537.48,91.94 L537.85,92.73 L538.22,93.53 L538.59,94.33 L538.96,95.14 L539.33,95.95 L539.70,96.76 L540.07,97.58 L540.44,98.40 L540.81,99.23 L541.18,100.05 L541.55,100.88 L541.92,101.72 L542.29,102.55 L542.66,103.39 L543.03,104.24 L543.40,105.08 L543.77,105.93 L544.14,106.79 L544.51,107.64 L544.88,108.50 L545.25,109.36 L545.62,110.23 L545.99,111.10 L546.36,111.97 L546.74,112.84 L547.11,113.72 L547.48,114.60 L547.85,115.48 L548.22,116.37 L548.59,117.26 L548.96,118.15 L549.33,119.04 L549.70,119.94 L550.07,120.84 L550.44,121.74 L550.81,122.65 L551.18,123.56 L551.55,124.47 L551.92,125.38 L552.29,126.30 L552.66,127.21 L553.03,128.14 L553.40,129.06 L553.77,129.99 L554.14,130.91 L554.51,131.85 L554.88,132.78 L555.25,133.72 L555.62,134.65 L555.99,135.60 L556.36,136.54 L556.73,137.49 L557.10,138.43 L557.47,139.38 L557.84,140.34 L558.21,141.29 L558.58,142.25 L558.95,143.21 L559.32,144.17 L559.69,145.13 L560.06,146.10 L560.43,147.07 L560.80,148.04 L561.17,149.01 L561.54,149.98 L561.91,150.96 L562.28,151.94 L562.65,152.92 L563.02,153.90 L563.39,154.88 L563.76,155.87 L564.13,156.86 L564.50,157.85 L564.87,158.84 L565.24,159.83 L565.61,160.83 L565.98,161.82 L566.35,162.82 L566.72,163.82 L567.09,164.82 L567.46,165.83 L567.84,166.83 L568.21,167.84 L568.58,168.85 L568.95,169.86 L569.32,170.87 L569.69,171.88 L570.06,172.90 L570.43,173.91 L570.80,174.93 L571.17,175.95 L571.54,176.97 L571.91,177.99 L572.28,179.02 L572.65,180.04 L573.02,181.07 L573.39,182.09 L573.76,183.12 L574.13,184.15 L574.50,185.18 L574.87,186.21 L575.24,187.25 L575.61,188.28 L575.98,189.32 L576.35,190.35 L576.72,191.39 L577.09,192.43 L577.46,193.47 L577.83,194.51 L578.20,195.55" fill="none" stroke="#000" stroke-width="3.0" stroke-linejoin="round" stroke-linecap="butt" /><path d="M430.90,23.49 L431.33,23.38 L431.76,23.27 L432.18,23.16 L432.61,23.05 L433.04,22.95 L433.47,22.84 L433.89,22.74 L434.32,22.64 L434.75,22.54 L435.18,22.44 L435.60,22.35 L436.03,22.25 L436.46,22.16 L436.89,22.07 L437.31,21.99 L437.74,21.90 L438.17,21.82 L438.60,21.74 L439.02,21.66 L439.45,21.58 L439.88,21.50 L440.31,21.43 L440.73,21.36 L441.16,21.29 L441.59,21.22 L442.02,21.16 L442.44,21.09 L442.87,21.03 L443.30,20.97 L443.73,20.92 L444.15,20.86 L444.58,20.81 L445.01,20.76 L445.44,20.71 L445.86,20.66 L446.29,20.62 L446.72,20.58 L447.15,20.54 L447.58,20.50 L448.00,20.47 L448.43,20.43 L448.86,20.40 L449.29,20.37 L449.71,20.35 L450.14,20.32 L450.57,20.30 L451.00,20.28 L451.42,20.26 L451.85,20.25 L452.28,20.24 L452.71,20.23 L453.13,20.22 L453.56,20.21 L453.99,20.21 L454.42,20.21 L454.84,20.21 L455.27,20.21 L455.70,20.22 L456.13,20.23 L456.55,20.24 L456.98,20.25 L457.41,20.27 L457.84,20.28 L458.26,20.31 L458.69,20.33 L459.12,20.35 L459.55,20.38 L459.97,20.41 L460.40,20.45 L460.83,20.48 L461.26,20.52 L461.68,20.56 L462.11,20.60 L462.54,20.65 L462.97,20.70 L463.40,20.75 L463.82,20.80 L464.25,20.86 L464.68,20.92 L465.11,20.98 L465.53,21.04 L465.96,21.11 L466.39,21.18 L466.82,21.25 L467.24,21.33 L467.67,21.41 L468.10,21.49 L468.53,21.57 L468.95,21.65 L469.38,21.74 L469.81,21.83 L470.24,21.93 L470.66,22.02 L471.09,22.12 L471.52,22.23 L471.95,22.33 L472.37,22.44 L472.80,22.55 L473.23,22.66 L473.66,22.78 L474.08,22.90 L474.51,23.02 L474.94,23.15 L475.37,23.27 L475.79,23.41 L476.22,23.54 L476.65,23.68 L477.08,23.82 L477.51,23.96 L477.93,24.10 L478.36,24.25 L478.79,24.40 L479.22,24.56 L479.64,24.71 L480.07,24.88 L480.50,25.04 L480.93,25.21 L481.35,25.37 L481.78,25.55 L482.21,25.72 L482.64,25.90 L483.06,26.08 L483.49,26.27 L483.92,26.46 L484.35,26.65 L484.77,26.84 L485.20,27.04 L485.63,27.24 L486.06,27.44 L486.48,27.65 L486.91,27.86 L487.34,28.07 L487.77,28.29 L488.19,28.51 L488.62,28.73 L489.05,28.96 L489.48,29.19 L489.90,29.42 L490.33,29.65 L490.76,29.89 L491.19,30.13 L491.61,30.38 L492.04,30.63 L492.47,30.88 L492.90,31.14 L493.33,31.40 L493.75,31.66 L494.18,31.92 L494.61,32.19 L495.04,32.46 L495.46,32.74 L495.89,33.02 L496.32,33.30 L496.75,33.59 L497.17,33.88 L497.60,34.17 L498.03,34.47 L498.46,34.77 L498.88,35.07 L499.31,35.38 L499.74,35.69 L500.17,36.00 L500.59,36.32 L501.02,36.64 L501.45,36.96 L501.88,37.29 L502.30,37.62 L502.73,37.96 L503.16,38.29 L503.59,38.64 L504.01,38.98 L504.44,39.33 L504.87,39.68 L505.30,40.04 L505.72,40.40 L506.15,40.77 L506.58,41.13 L507.01,41.50 L507.43,41.88 L507.86,42.26 L508.29,42.64 L508.72,43.03 L509.15,43.42 L509.57,43.81 L510.00,44.21 L510.43,44.61 L510.86,45.01 L511.28,45.42 L511.71,45.83 L512.14,46.25 L512.57,46.67 L512.99,47.09 L513.42,47.52 L513.85,47.95 L514.28,48.39 L514.70,48.83 L515.13,49.27 L515.56,49.72 L515.99,50.17 L516.41,50.62 L516.84,51.08 L517.27,51.54 L517.70,52.01 L518.12,52.48 L518.55,52.96 L518.98,53.43 L519.41,53.92 L519.83,54.40 L520.26,54.89 L520.69,55.39 L521.12,55.88 L521.54,56.38 L521.97,56.89 L522.40,57.40 L522.83,57.91 L523.25,58.42 L523.68,58.94 L524.11,59.46 L524.54,59.99 L524.97,60.52 L525.39,61.05 L525.82,61.59 L526.25,62.13 L526.68,62.68 L527.10,63.22 L527.53,63.77 L527.96,64.33 L528.39,64.88 L528.81,65.45 L529.24,66.01 L529.67,66.58 L530.10,67.15 L530.52,67.72 L530.95,68.30 L531.38,68.88 L531.81,69.46 L532.23,70.05 L532.66,70.64 L533.09,71.23 L533.52,71.83 L533.94,72.43 L534.37,73.03 L534.80,73.64 L535.23,74.25 L535.65,74.86 L536.08,75.47 L536.51,76.09 L536.94,76.71 L537.36,77.33 L537.79,77.96 L538.22,78.59 L538.65,79.22 L539.07,79.86 L539.50,80.50 L539.93,81.14 L540.36,81.78 L540.79,82.43 L541.21,83.08 L541.64,83.73 L542.07,84.38 L542.50,85.04 L542.92,85.70 L543.35,86.36 L543.78,87.03 L544.21,87.70 L544.63,88.37 L545.06,89.04 L545.49,89.71 L545.92,90.39 L546.34,91.07 L546.77,91.76 L547.20,92.44 L547.63,93.13 L548.05,93.82 L548.48,94.51 L548.91,95.21 L549.34,95.91 L549.76,96.61 L550.19,97.31 L550.62,98.01 L551.05,98.72 L551.47,99.43 L551.90,100.14 L552.33,100.85 L552.76,101.57 L553.18,102.29 L553.61,103.01 L554.04,103.73 L554.47,104.45 L554.89,105.18 L555.32,105.91 L555.75,106.64 L556.18,107.37 L556.61,108.11 L557.03,108.84 L557.46,109.58 L557.89,110.32 L558.32,111.06 L558.74,111.81 L559.17,112.55 L559.60,113.30 L560.03,114.05 L560.45,114.80 L560.88,115.56 L561.31,116.31 L561.74,117.07 L562.16,117.83 L562.59,118.59 L563.02,119.35 L563.45,120.11 L563.87,120.88 L564.30,121.65 L564.73,122.42 L565.16,123.19 L565.58,123.96 L566.01,124.73 L566.44,125.51 L566.87,126.28 L567.29,127.06 L567.72,127.84 L568.15,128.62 L568.58,129.40 L569.00,130.19 L569.43,130.97 L569.86,131.76 L570.29,132.55 L570.72,133.33 L571.14,134.12 L571.57,134.92 L572.00,135.71 L572.43,136.50 L572.85,137.30 L573.28,138.09 L573.71,138.89 L574.14,139.69 L574.56,140.49 L574.99,141.29 L575.42,142.09 L575.85,142.90 L576.27,143.70 L576.70,144.51 L577.13,145.31 L577.56,146.12 L577.98,146.93 L578.41,147.74 L578.84,148.55 L579.27,149.36 L579.69,150.17 L580.12,150.98 L580.55,151.80 L580.98,152.61 L581.40,153.43 L581.83,154.24 L582.26,155.06 L582.69,155.88 L583.11,156.70 L583.54,157.51 L583.97,158.33 L584.40,159.15 L584.82,159.97 L585.25,160.80 L585.68,161.62 L586.11,162.44 L586.54,163.26 L586.96,164.09 L587.39,164.91 L587.82,165.74 L588.25,166.56 L588.67,167.39 L589.10,168.21 L589.53,169.04 L589.96,169.87 L590.38,170.69 L590.81,171.52 L591.24,172.35 L591.67,173.18 L592.09,174.00 L592.52,174.83 L592.95,175.66 L593.38,176.49 L593.80,177.32 L594.23,178.15 L594.66,178.98 L595.09,179.81 L595.51,180.64 L595.94,181.47 L596.37,182.30 L596.80,183.13 L597.22,183.96 L597.65,184.79 L598.08,185.62 L598.51,186.45 L598.93,187.28 L599.36,188.11 L599.79,188.94 L600.22,189.77 L600.64,190.60 L601.07,191.42 L601.50,192.25" fill="none" stroke="#0000ff" stroke-width="4.0" stroke-linejoin="round" stroke-linecap="butt" /><path d="M566.35,162.82 L566.72,163.82 L567.09,164.82 L567.46,165.83 L567.84,166.83 L568.21,167.84 L568.58,168.85 L568.95,169.86 L569.32,170.87 L569.69,171.88 L570.06,172.90 L570.43,173.91 L570.80,174.93 L571.17,175.95 L571.54,176.97 L571.91,177.99 L572.28,179.02 L572.65,180.04 L573.02,181.07 L573.39,182.09 L573.76,183.12 L574.13,184.15 L574.50,185.18 L574.87,186.21 L575.24,187.25 L575.61,188.28 L575.98,189.32 L576.35,190.35 L578.30,196.00 L578.30,203.50" fill="none" stroke="#000" stroke-width="3.8" stroke-linejoin="round"/><path d="M571.54,176.97 L571.91,177.99 L572.28,179.02 L572.65,180.04 L573.02,181.07 L573.39,182.09 L573.76,183.12 L574.13,184.15 L574.50,185.18 L574.87,186.21 L575.24,187.25 L575.61,188.28 L575.98,189.32 L576.35,190.35 L578.30,196.00 L578.30,203.50" fill="none" stroke="#000" stroke-width="4.8" stroke-linejoin="round"/><path d="M587.82,165.74 L588.25,166.56 L588.67,167.39 L589.10,168.21 L589.53,169.04 L589.96,169.87 L590.38,170.69 L590.81,171.52 L591.24,172.35 L591.67,173.18 L592.09,174.00 L592.52,174.83 L592.95,175.66 L593.38,176.49 L593.80,177.32 L594.23,178.15 L594.66,178.98 L595.09,179.81 L595.51,180.64 L595.94,181.47 L596.37,182.30 L596.80,183.13 L597.22,183.96 L597.65,184.79 L598.08,185.62 L598.51,186.45 L598.93,187.28 L599.36,188.11 L599.79,188.94 L600.22,189.77 L600.64,190.60 L601.30,196.00 L601.30,203.50" fill="none" stroke="#0000ff" stroke-width="4.8" stroke-linejoin="round"/><path d="M594.23,178.15 L594.66,178.98 L595.09,179.81 L595.51,180.64 L595.94,181.47 L596.37,182.30 L596.80,183.13 L597.22,183.96 L597.65,184.79 L598.08,185.62 L598.51,186.45 L598.93,187.28 L599.36,188.11 L599.79,188.94 L600.22,189.77 L600.64,190.60 L601.30,196.00 L601.30,203.50" fill="none" stroke="#0000ff" stroke-width="5.8" stroke-linejoin="round"/><path d="M431.00,21.51 L431.97,21.52 L432.95,21.53 L433.92,21.55 L434.90,21.56 L435.87,21.58 L436.85,21.59 L437.82,21.61 L438.80,21.63 L439.77,21.65 L440.75,21.67 L441.72,21.70 L442.70,21.72 L443.67,21.75 L444.65,21.77 L445.62,21.80 L446.60,21.83 L447.57,21.87 L448.55,21.90 L449.52,21.94 L450.50,21.98 L451.47,22.02 L452.45,22.06 L453.42,22.11 L454.40,22.16 L455.37,22.21 L456.35,22.26 L457.32,22.32 L458.30,22.38 L459.27,22.45 L460.25,22.52 L461.22,22.59 L462.20,22.67 L463.17,22.75 L464.15,22.84 L465.12,22.93 L466.10,23.03 L467.07,23.13 L468.05,23.24 L469.02,23.36 L469.99,23.48 L470.97,23.61 L471.94,23.74 L472.92,23.89 L473.89,24.04 L474.87,24.20 L475.84,24.37 L476.82,24.55 L477.79,24.73 L478.77,24.93 L479.74,25.14 L480.72,25.36 L481.69,25.59 L482.67,25.83 L483.64,26.09 L484.62,26.36 L485.59,26.64 L486.57,26.93 L487.54,27.24 L488.52,27.57 L489.49,27.91 L490.47,28.27 L491.44,28.64 L492.42,29.03 L493.39,29.44 L494.37,29.87 L495.34,30.31 L496.32,30.78 L497.29,31.26 L498.27,31.77 L499.24,32.29 L500.22,32.83 L501.19,33.40 L502.17,33.99 L503.14,34.60 L504.12,35.23 L505.09,35.88 L506.07,36.56 L507.04,37.26 L508.02,37.98 L508.99,38.72 L509.96,39.49 L510.94,40.28 L511.91,41.09 L512.89,41.92 L513.86,42.78 L514.84,43.66 L515.81,44.56 L516.79,45.48 L517.76,46.42 L518.74,47.39 L519.71,48.38 L520.69,49.38 L521.66,50.41 L522.64,51.45 L523.61,52.52 L524.59,53.60 L525.56,54.71 L526.54,55.83 L527.51,56.96 L528.49,58.12 L529.46,59.29 L530.44,60.47 L531.41,61.67 L532.39,62.89 L533.36,64.12 L534.34,65.36 L535.31,66.62 L536.29,67.89 L537.26,69.17 L538.24,70.46 L539.21,71.77 L540.19,73.08 L541.16,74.40 L542.14,75.74 L543.11,77.08 L544.09,78.44 L545.06,79.80 L546.04,81.16 L547.01,82.54 L547.98,83.93 L548.96,85.32 L549.93,86.71 L550.91,88.12 L551.88,89.53 L552.86,90.94 L553.83,92.36 L554.81,93.79 L555.78,95.22 L556.76,96.66 L557.73,98.10 L558.71,99.54 L559.68,100.99 L560.66,102.44 L561.63,103.89 L562.61,105.35 L563.58,106.81 L564.56,108.28 L565.53,109.75 L566.51,111.22 L567.48,112.69 L568.46,114.16 L569.43,115.64 L570.41,117.12 L571.38,118.60 L572.36,120.08 L573.33,121.57 L574.31,123.05 L575.28,124.54 L576.26,126.03 L577.23,127.52 L578.21,129.01 L579.18,130.51 L580.16,132.00 L581.13,133.50 L582.11,134.99 L583.08,136.49 L584.06,137.99 L585.03,139.49 L586.01,140.99 L586.98,142.49 L587.95,143.99 L588.93,145.50 L589.90,147.00 L590.88,148.50 L591.85,150.01 L592.83,151.51 L593.80,153.02 L594.78,154.53 L595.75,156.03 L596.73,157.54 L597.70,159.05 L598.68,160.55 L599.65,162.06 L600.63,163.57 L601.60,165.08 L602.58,166.59 L603.55,168.10 L604.53,169.61 L605.50,171.12 L606.48,172.63 L607.45,174.14 L608.43,175.65 L609.40,177.16 L610.38,178.67 L611.35,180.18 L612.33,181.69 L613.30,183.20 L614.28,184.72 L615.25,186.23 L616.23,187.74 L617.20,189.25 L618.18,190.76 L619.15,192.28 L620.13,193.79 L621.10,195.30 L622.08,196.81 L623.05,198.33 L624.03,199.84 L625.00,201.35" fill="none" stroke="#0000ff" stroke-width="2.1" stroke-linejoin="round" stroke-linecap="butt" stroke-dasharray="6 6" /><line x1="530.10" y1="120.80" x2="564.60" y2="128.00" stroke="#0000ff" stroke-width="1.2" /><line x1="539.30" y1="158.40" x2="560.80" y2="155.10" stroke="#000" stroke-width="1.2" /><line x1="605.80" y1="171.20" x2="616.00" y2="167.00" stroke="#0000ff" stroke-width="1.2" /><rect x="425.6" y="1.2" width="243.10000000000002" height="203.3" fill="none" stroke="#000" stroke-width="3.3"/><text x="354.89" y="29.00" font-family="Liberation Sans" font-weight="bold" font-style="normal" font-size="32" fill="#000" xml:space="preserve">b</text><text x="404.30" y="29.80" font-family="Liberation Serif" font-weight="normal" font-style="normal" font-size="25" fill="#000" xml:space="preserve">1</text><text x="387.75" y="88.00" font-family="Liberation Serif" font-weight="normal" font-style="normal" font-size="25" fill="#000" xml:space="preserve">0.1</text><text x="375.25" y="146.20" font-family="Liberation Serif" font-weight="normal" font-style="normal" font-size="25" fill="#000" xml:space="preserve">0.01</text><text x="362.75" y="203.60" font-family="Liberation Serif" font-weight="normal" font-style="normal" font-size="25" fill="#000" xml:space="preserve">0.001</text><text x="407.27" y="227.90" font-family="Liberation Serif" font-weight="normal" font-style="normal" font-size="25" fill="#000" xml:space="preserve">-100</text><text x="500.85" y="227.90" font-family="Liberation Serif" font-weight="normal" font-style="normal" font-size="25" fill="#000" xml:space="preserve">0</text><text x="563.20" y="227.90" font-family="Liberation Serif" font-weight="normal" font-style="normal" font-size="25" fill="#000" xml:space="preserve">100</text><text x="638.30" y="227.90" font-family="Liberation Serif" font-weight="normal" font-style="normal" font-size="25" fill="#000" xml:space="preserve">200</text><text x="489.29" y="251.50" font-family="Liberation Serif" font-weight="normal" font-style="italic" font-size="25" fill="#000" xml:space="preserve">E</text><text x="504.56" y="251.50" font-family="Liberation Serif" font-weight="normal" font-style="normal" font-size="25" fill="#000" xml:space="preserve"> - µ (µeV)</text><g transform="translate(377.5,81.5) rotate(-90)"><g transform="translate(-24.30,0.50) scale(1.0)"><path d="M1.3,3.9 C2.6,5.4 4.3,4.9 5.3,2.2 C6.8,-2 9.5,-10.5 11.2,-14.5 C12.2,-16.9 13.2,-18 14.2,-18 C14.9,-18 15.4,-17.4 15.3,-16.6" fill="none" stroke="#000" stroke-width="1.3" stroke-linecap="round"/><path d="M5.0,3.0 C6.8,-2 9.5,-10.5 11.0,-14.0" fill="none" stroke="#000" stroke-width="2.0" stroke-linecap="round"/><circle cx="1.5" cy="3.7" r="1.15" fill="#000"/><circle cx="15.0" cy="-16.5" r="1.15" fill="#000"/><path d="M6.0,-10.6 L12.1,-10.6" stroke="#000" stroke-width="1.2"/></g><text x="-7.40" y="0.00" font-family="Liberation Serif" font-weight="normal" font-style="normal" font-size="25" fill="#000" xml:space="preserve">(</text><text x="0.93" y="0.00" font-family="Liberation Serif" font-weight="normal" font-style="italic" font-size="25" fill="#000" xml:space="preserve">E</text><text x="16.20" y="0.00" font-family="Liberation Serif" font-weight="normal" font-style="normal" font-size="25" fill="#000" xml:space="preserve">)</text></g><text x="573.25" y="36.00" font-family="Liberation Serif" font-weight="normal" font-style="normal" font-size="28" fill="#0000ff" xml:space="preserve">QT</text><text x="565.89" y="62.50" font-family="Liberation Serif" font-weight="normal" font-style="italic" font-size="22" fill="#0000ff" xml:space="preserve">g</text><text x="576.89" y="62.50" font-family="Liberation Serif" font-weight="normal" font-style="normal" font-size="22" fill="#0000ff" xml:space="preserve"> = 0.50</text><text x="557.77" y="88.40" font-family="Liberation Serif" font-weight="normal" font-style="italic" font-size="22" fill="#0000ff" xml:space="preserve">J</text><text x="567.53" y="94.90" font-family="Liberation Serif" font-weight="normal" font-style="normal" font-size="16.5" fill="#0000ff" xml:space="preserve">T</text><text x="577.61" y="88.40" font-family="Liberation Serif" font-weight="normal" font-style="normal" font-size="22" fill="#0000ff" xml:space="preserve"> = 61 fW</text><g transform="translate(489.80,120.90) scale(1.0)"><path d="M1.3,3.9 C2.6,5.4 4.3,4.9 5.3,2.2 C6.8,-2 9.5,-10.5 11.2,-14.5 C12.2,-16.9 13.2,-18 14.2,-18 C14.9,-18 15.4,-17.4 15.3,-16.6" fill="none" stroke="#0000ff" stroke-width="1.3" stroke-linecap="round"/><path d="M5.0,3.0 C6.8,-2 9.5,-10.5 11.0,-14.0" fill="none" stroke="#0000ff" stroke-width="2.0" stroke-linecap="round"/><circle cx="1.5" cy="3.7" r="1.15" fill="#0000ff"/><circle cx="15.0" cy="-16.5" r="1.15" fill="#0000ff"/><path d="M6.0,-10.6 L12.1,-10.6" stroke="#0000ff" stroke-width="1.2"/></g><text x="500.80" y="128.90" font-family="Liberation Serif" font-weight="normal" font-style="normal" font-size="19.5" fill="#0000ff" xml:space="preserve">S,</text><path d="M520.89,132.20 L520.89,119.00" stroke="#0000ff" stroke-width="1.7" fill="none"/><path d="M518.39,123.20 L520.89,118.30 L523.39,123.20" stroke="#0000ff" stroke-width="1.9" fill="none" stroke-linejoin="miter" stroke-linecap="round"/><g transform="translate(505.60,167.00) scale(1.0)"><path d="M1.3,3.9 C2.6,5.4 4.3,4.9 5.3,2.2 C6.8,-2 9.5,-10.5 11.2,-14.5 C12.2,-16.9 13.2,-18 14.2,-18 C14.9,-18 15.4,-17.4 15.3,-16.6" fill="none" stroke="#000" stroke-width="1.3" stroke-linecap="round"/><path d="M5.0,3.0 C6.8,-2 9.5,-10.5 11.0,-14.0" fill="none" stroke="#000" stroke-width="2.0" stroke-linecap="round"/><circle cx="1.5" cy="3.7" r="1.15" fill="#000"/><circle cx="15.0" cy="-16.5" r="1.15" fill="#000"/><path d="M6.0,-10.6 L12.1,-10.6" stroke="#000" stroke-width="1.2"/></g><text x="517.34" y="175.30" font-family="Liberation Serif" font-weight="normal" font-style="normal" font-size="19.5" fill="#000" xml:space="preserve">D,</text><path d="M540.67,178.60 L540.67,165.40" stroke="#000" stroke-width="1.7" fill="none"/><path d="M538.17,169.60 L540.67,164.70 L543.17,169.60" stroke="#000" stroke-width="1.9" fill="none" stroke-linejoin="miter" stroke-linecap="round"/><g transform="translate(623.20,170.70) scale(1.0)"><path d="M1.3,3.9 C2.6,5.4 4.3,4.9 5.3,2.2 C6.8,-2 9.5,-10.5 11.2,-14.5 C12.2,-16.9 13.2,-18 14.2,-18 C14.9,-18 15.4,-17.4 15.3,-16.6" fill="none" stroke="#0000ff" stroke-width="1.3" stroke-linecap="round"/><path d="M5.0,3.0 C6.8,-2 9.5,-10.5 11.0,-14.0" fill="none" stroke="#0000ff" stroke-width="2.0" stroke-linecap="round"/><circle cx="1.5" cy="3.7" r="1.15" fill="#0000ff"/><circle cx="15.0" cy="-16.5" r="1.15" fill="#0000ff"/><path d="M6.0,-10.6 L12.1,-10.6" stroke="#0000ff" stroke-width="1.2"/></g><text x="635.32" y="178.70" font-family="Liberation Serif" font-weight="normal" font-style="normal" font-size="18.5" fill="#0000ff" xml:space="preserve">th</text><line x1="64.60" y1="376.80" x2="72.60" y2="376.80" stroke="#000" stroke-width="1.7" /><line x1="319.70" y1="376.80" x2="327.70" y2="376.80" stroke="#000" stroke-width="1.7" /><line x1="64.60" y1="351.21" x2="68.60" y2="351.21" stroke="#000" stroke-width="1.7" /><line x1="323.70" y1="351.21" x2="327.70" y2="351.21" stroke="#000" stroke-width="1.7" /><line x1="64.60" y1="336.24" x2="68.60" y2="336.24" stroke="#000" stroke-width="1.7" /><line x1="323.70" y1="336.24" x2="327.70" y2="336.24" stroke="#000" stroke-width="1.7" /><line x1="64.60" y1="325.62" x2="68.60" y2="325.62" stroke="#000" stroke-width="1.7" /><line x1="323.70" y1="325.62" x2="327.70" y2="325.62" stroke="#000" stroke-width="1.7" /><line x1="64.60" y1="317.39" x2="68.60" y2="317.39" stroke="#000" stroke-width="1.7" /><line x1="323.70" y1="317.39" x2="327.70" y2="317.39" stroke="#000" stroke-width="1.7" /><line x1="64.60" y1="310.66" x2="68.60" y2="310.66" stroke="#000" stroke-width="1.7" /><line x1="323.70" y1="310.66" x2="327.70" y2="310.66" stroke="#000" stroke-width="1.7" /><line x1="64.60" y1="304.97" x2="68.60" y2="304.97" stroke="#000" stroke-width="1.7" /><line x1="323.70" y1="304.97" x2="327.70" y2="304.97" stroke="#000" stroke-width="1.7" /><line x1="64.60" y1="300.04" x2="68.60" y2="300.04" stroke="#000" stroke-width="1.7" /><line x1="323.70" y1="300.04" x2="327.70" y2="300.04" stroke="#000" stroke-width="1.7" /><line x1="64.60" y1="295.69" x2="68.60" y2="295.69" stroke="#000" stroke-width="1.7" /><line x1="323.70" y1="295.69" x2="327.70" y2="295.69" stroke="#000" stroke-width="1.7" /><line x1="64.60" y1="461.80" x2="72.60" y2="461.80" stroke="#000" stroke-width="1.7" /><line x1="319.70" y1="461.80" x2="327.70" y2="461.80" stroke="#000" stroke-width="1.7" /><line x1="64.60" y1="436.21" x2="68.60" y2="436.21" stroke="#000" stroke-width="1.7" /><line x1="323.70" y1="436.21" x2="327.70" y2="436.21" stroke="#000" stroke-width="1.7" /><line x1="64.60" y1="421.24" x2="68.60" y2="421.24" stroke="#000" stroke-width="1.7" /><line x1="323.70" y1="421.24" x2="327.70" y2="421.24" stroke="#000" stroke-width="1.7" /><line x1="64.60" y1="410.62" x2="68.60" y2="410.62" stroke="#000" stroke-width="1.7" /><line x1="323.70" y1="410.62" x2="327.70" y2="410.62" stroke="#000" stroke-width="1.7" /><line x1="64.60" y1="402.39" x2="68.60" y2="402.39" stroke="#000" stroke-width="1.7" /><line x1="323.70" y1="402.39" x2="327.70" y2="402.39" stroke="#000" stroke-width="1.7" /><line x1="64.60" y1="395.66" x2="68.60" y2="395.66" stroke="#000" stroke-width="1.7" /><line x1="323.70" y1="395.66" x2="327.70" y2="395.66" stroke="#000" stroke-width="1.7" /><line x1="64.60" y1="389.97" x2="68.60" y2="389.97" stroke="#000" stroke-width="1.7" /><line x1="323.70" y1="389.97" x2="327.70" y2="389.97" stroke="#000" stroke-width="1.7" /><line x1="64.60" y1="385.04" x2="68.60" y2="385.04" stroke="#000" stroke-width="1.7" /><line x1="323.70" y1="385.04" x2="327.70" y2="385.04" stroke="#000" stroke-width="1.7" /><line x1="64.60" y1="380.69" x2="68.60" y2="380.69" stroke="#000" stroke-width="1.7" /><line x1="323.70" y1="380.69" x2="327.70" y2="380.69" stroke="#000" stroke-width="1.7" /><line x1="64.60" y1="480.66" x2="68.60" y2="480.66" stroke="#000" stroke-width="1.7" /><line x1="323.70" y1="480.66" x2="327.70" y2="480.66" stroke="#000" stroke-width="1.7" /><line x1="64.60" y1="474.97" x2="68.60" y2="474.97" stroke="#000" stroke-width="1.7" /><line x1="323.70" y1="474.97" x2="327.70" y2="474.97" stroke="#000" stroke-width="1.7" /><line x1="64.60" y1="470.04" x2="68.60" y2="470.04" stroke="#000" stroke-width="1.7" /><line x1="323.70" y1="470.04" x2="327.70" y2="470.04" stroke="#000" stroke-width="1.7" /><line x1="64.60" y1="465.69" x2="68.60" y2="465.69" stroke="#000" stroke-width="1.7" /><line x1="323.70" y1="465.69" x2="327.70" y2="465.69" stroke="#000" stroke-width="1.7" /><line x1="64.60" y1="291.80" x2="72.60" y2="291.80" stroke="#000" stroke-width="1.7" /><line x1="319.70" y1="291.80" x2="327.70" y2="291.80" stroke="#000" stroke-width="1.7" /><line x1="116.00" y1="486.10" x2="116.00" y2="479.60" stroke="#000" stroke-width="1.7" /><line x1="116.00" y1="267.60" x2="116.00" y2="274.10" stroke="#000" stroke-width="1.7" /><line x1="169.46" y1="486.10" x2="169.46" y2="479.60" stroke="#000" stroke-width="1.7" /><line x1="169.46" y1="267.60" x2="169.46" y2="274.10" stroke="#000" stroke-width="1.7" /><line x1="222.92" y1="486.10" x2="222.92" y2="479.60" stroke="#000" stroke-width="1.7" /><line x1="222.92" y1="267.60" x2="222.92" y2="274.10" stroke="#000" stroke-width="1.7" /><line x1="276.38" y1="486.10" x2="276.38" y2="479.60" stroke="#000" stroke-width="1.7" /><line x1="276.38" y1="267.60" x2="276.38" y2="274.10" stroke="#000" stroke-width="1.7" /><clipPath id="cc"><rect x="64.6" y="267.6" width="263" height="218.5"/></clipPath><g clip-path="url(#cc)"><path d="M64.00,291.80 L64.69,291.80 L65.38,291.80 L66.07,291.80 L66.76,291.80 L67.44,291.80 L68.13,291.80 L68.82,291.80 L69.51,291.80 L70.20,291.80 L70.89,291.80 L71.58,291.80 L72.27,291.80 L72.96,291.80 L73.65,291.80 L74.33,291.80 L75.02,291.80 L75.71,291.80 L76.40,291.80 L77.09,291.80 L77.78,291.80 L78.47,291.80 L79.16,291.80 L79.85,291.80 L80.54,291.81 L81.22,291.81 L81.91,291.81 L82.60,291.81 L83.29,291.81 L83.98,291.81 L84.67,291.81 L85.36,291.82 L86.05,291.82 L86.74,291.82 L87.42,291.83 L88.11,291.83 L88.80,291.84 L89.49,291.85 L90.18,291.86 L90.87,291.87 L91.56,291.88 L92.25,291.90 L92.94,291.91 L93.63,291.93 L94.31,291.96 L95.00,291.99 L95.69,292.03 L96.38,292.07 L97.07,292.12 L97.76,292.18 L98.45,292.25 L99.14,292.33 L99.83,292.43 L100.52,292.54 L101.20,292.68 L101.89,292.85 L102.58,293.04 L103.27,293.27 L103.96,293.53 L104.65,293.85 L105.34,294.22 L106.03,294.66 L106.72,295.17 L107.40,295.76 L108.09,296.46 L108.78,297.26 L109.47,298.20 L110.16,299.28 L110.85,300.51 L111.54,301.93 L112.23,303.53 L112.92,305.35 L113.61,307.38 L114.29,309.65 L114.98,312.15 L115.67,314.90 L116.36,317.90 L117.05,321.13 L117.74,324.58 L118.43,328.26 L119.12,332.12 L119.81,336.16 L120.49,340.35 L121.18,344.65 L121.87,349.04 L122.56,353.49 L123.25,357.96 L123.94,362.41 L124.63,366.83 L125.32,371.17 L126.01,375.40 L126.70,379.49 L127.38,383.42 L128.07,387.17 L128.76,390.71 L129.45,394.02 L130.14,397.10 L130.83,399.93 L131.52,402.53 L132.21,404.88 L132.90,406.99 L133.59,408.89 L134.27,410.56 L134.96,412.05 L135.65,413.34 L136.34,414.48 L137.03,415.46 L137.72,416.31 L138.41,417.05 L139.10,417.68 L139.79,418.22 L140.47,418.68 L141.16,419.07 L141.85,419.40 L142.54,419.69 L143.23,419.93 L143.92,420.13 L144.61,420.31 L145.30,420.45 L145.99,420.58 L146.68,420.68 L147.36,420.77 L148.05,420.84 L148.74,420.91 L149.43,420.96 L150.12,421.01 L150.81,421.04 L151.50,421.07 L152.19,421.10 L152.88,421.12 L153.57,421.14 L154.25,421.16 L154.94,421.17 L155.63,421.18 L156.32,421.19 L157.01,421.20 L157.70,421.21 L158.39,421.21 L159.08,421.22 L159.77,421.22 L160.45,421.23 L161.14,421.23 L161.83,421.23 L162.52,421.23 L163.21,421.24 L163.90,421.24 L164.59,421.24 L165.28,421.24 L165.97,421.24 L166.66,421.24 L167.34,421.24 L168.03,421.24 L168.72,421.24 L169.41,421.24 L170.10,421.24 L170.79,421.24 L171.48,421.24 L172.17,421.24 L172.86,421.24 L173.55,421.24 L174.23,421.24 L174.92,421.24 L175.61,421.24 L176.30,421.24 L176.99,421.24 L177.68,421.24 L178.37,421.24 L179.06,421.24 L179.75,421.24 L180.43,421.24 L181.12,421.24 L181.81,421.24 L182.50,421.24 L183.19,421.24 L183.88,421.24 L184.57,421.24 L185.26,421.24 L185.95,421.24 L186.64,421.24 L187.32,421.24 L188.01,421.24 L188.70,421.24 L189.39,421.24 L190.08,421.24 L190.77,421.24 L191.46,421.24 L192.15,421.24 L192.84,421.24 L193.53,421.24 L194.21,421.24 L194.90,421.24 L195.59,421.24 L196.28,421.24 L196.97,421.24 L197.66,421.24 L198.35,421.24 L199.04,421.24 L199.73,421.24 L200.41,421.24 L201.10,421.24 L201.79,421.24 L202.48,421.24 L203.17,421.24 L203.86,421.24 L204.55,421.24 L205.24,421.24 L205.93,421.24 L206.62,421.24 L207.30,421.24 L207.99,421.24 L208.68,421.24 L209.37,421.24 L210.06,421.24 L210.75,421.24 L211.44,421.24 L212.13,421.24 L212.82,421.24 L213.51,421.24 L214.19,421.24 L214.88,421.24 L215.57,421.24 L216.26,421.24 L216.95,421.24 L217.64,421.24 L218.33,421.24 L219.02,421.24 L219.71,421.24 L220.39,421.24 L221.08,421.24 L221.77,421.24 L222.46,421.24 L223.15,421.24 L223.84,421.24 L224.53,421.24 L225.22,421.24 L225.91,421.24 L226.60,421.24 L227.28,421.24 L227.97,421.24 L228.66,421.24 L229.35,421.24 L230.04,421.25 L230.73,421.25 L231.42,421.25 L232.11,421.25 L232.80,421.25 L233.48,421.25 L234.17,421.25 L234.86,421.25 L235.55,421.25 L236.24,421.25 L236.93,421.25 L237.62,421.25 L238.31,421.25 L239.00,421.25 L239.69,421.25 L240.37,421.25 L241.06,421.25 L241.75,421.25 L242.44,421.25 L243.13,421.25 L243.82,421.26 L244.51,421.26 L245.20,421.26 L245.89,421.26 L246.58,421.27 L247.26,421.27 L247.95,421.28 L248.64,421.28 L249.33,421.29 L250.02,421.30 L250.71,421.31 L251.40,421.32 L252.09,421.33 L252.78,421.35 L253.46,421.37 L254.15,421.39 L254.84,421.42 L255.53,421.45 L256.22,421.49 L256.91,421.53 L257.60,421.58 L258.29,421.65 L258.98,421.72 L259.67,421.81 L260.35,421.92 L261.04,422.04 L261.73,422.19 L262.42,422.36 L263.11,422.57 L263.80,422.81 L264.49,423.10 L265.18,423.44 L265.87,423.83 L266.56,424.30 L267.24,424.84 L267.93,425.48 L268.62,426.23 L269.31,427.09 L270.00,428.09 L270.00,428.09 L270.13,428.30 L270.26,428.51 L270.39,428.73 L270.53,428.95 L270.66,429.18 L270.79,429.42 L270.92,429.66 L271.05,429.91 L271.18,430.17 L271.31,430.43 L271.44,430.70 L271.58,430.98 L271.71,431.26 L271.84,431.55 L271.97,431.85 L272.10,432.16 L272.23,432.47 L272.36,432.79 L272.49,433.12 L272.63,433.46 L272.76,433.80 L272.89,434.15 L273.02,434.52 L273.15,434.88 L273.28,435.26 L273.41,435.65 L273.55,436.04 L273.68,436.45 L273.81,436.86 L273.94,437.28 L274.07,437.71 L274.20,438.15 L274.33,438.60 L274.46,439.06 L274.60,439.53 L274.73,440.00 L274.86,440.49 L274.99,440.98 L275.12,441.49 L275.25,442.01 L275.38,442.53 L275.52,443.07 L275.65,443.61 L275.78,444.16 L275.91,444.73 L276.04,445.30 L276.17,445.89 L276.30,446.48 L276.43,447.08 L276.57,447.70 L276.70,448.32 L276.83,448.95 L276.96,449.60 L277.09,450.25 L277.22,450.91 L277.35,451.59 L277.48,452.27 L277.62,452.96 L277.75,453.66 L277.88,454.37 L278.01,455.09 L278.14,455.82 L278.27,456.56 L278.40,457.31 L278.54,458.07 L278.67,458.84 L278.80,459.62 L278.93,460.40 L279.06,461.20 L279.19,462.00 L279.32,462.81 L279.45,463.64 L279.59,464.46 L279.72,465.30 L279.85,466.15 L279.98,467.00 L280.11,467.87 L280.24,468.74 L280.37,469.62 L280.51,470.50 L280.64,471.40 L280.77,472.30 L280.90,473.21 L281.03,474.13 L281.16,475.05 L281.29,475.98 L281.42,476.92 L281.56,477.87 L281.69,478.82 L281.82,479.77 L281.95,480.74 L282.08,481.71 L282.21,482.69 L282.34,483.67 L282.47,484.66 L282.61,485.65 L282.74,486.66 L282.87,487.66 L283.00,488.67" fill="none" stroke="#000" stroke-width="2.1" stroke-linejoin="round" stroke-linecap="butt" /><path d="M64.00,291.54 L64.39,291.58 L64.77,291.61 L65.16,291.64 L65.54,291.67 L65.93,291.70 L66.31,291.73 L66.70,291.75 L67.08,291.78 L67.47,291.80 L67.85,291.82 L68.24,291.84 L68.63,291.86 L69.01,291.87 L69.40,291.89 L69.78,291.90 L70.17,291.91 L70.55,291.92 L70.94,291.93 L71.32,291.94 L71.71,291.95 L72.09,291.95 L72.48,291.96 L72.87,291.97 L73.25,291.97 L73.64,291.97 L74.02,291.98 L74.41,291.98 L74.79,291.98 L75.18,291.98 L75.56,291.98 L75.95,291.98 L76.33,291.98 L76.72,291.98 L77.11,291.98 L77.49,291.97 L77.88,291.97 L78.26,291.97 L78.65,291.97 L79.03,291.97 L79.42,291.96 L79.80,291.96 L80.19,291.96 L80.57,291.96 L80.96,291.96 L81.35,291.95 L81.73,291.95 L82.12,291.95 L82.50,291.95 L82.89,291.95 L83.27,291.95 L83.66,291.95 L84.04,291.95 L84.43,291.96 L84.82,291.96 L85.20,291.96 L85.59,291.97 L85.97,291.97 L86.36,291.98 L86.74,291.99 L87.13,291.99 L87.51,292.00 L87.90,292.01 L88.28,292.02 L88.67,292.04 L89.06,292.05 L89.44,292.07 L89.83,292.08 L90.21,292.10 L90.60,292.12 L90.98,292.14 L91.37,292.16 L91.75,292.19 L92.14,292.21 L92.52,292.24 L92.91,292.27 L93.30,292.30 L93.68,292.33 L94.07,292.37 L94.45,292.41 L94.84,292.44 L95.22,292.48 L95.61,292.53 L95.99,292.57 L96.38,292.62 L96.76,292.67 L97.15,292.72 L97.54,292.78 L97.92,292.83 L98.31,292.89 L98.69,292.95 L99.08,293.02 L99.46,293.08 L99.85,293.15 L100.23,293.23 L100.62,293.30 L101.00,293.38 L101.39,293.46 L101.78,293.54 L102.16,293.63 L102.55,293.72 L102.93,293.81 L103.32,293.91 L103.70,294.01 L104.09,294.11 L104.47,294.22 L104.86,294.34 L105.24,294.46 L105.63,294.59 L106.02,294.72 L106.40,294.87 L106.79,295.02 L107.17,295.19 L107.56,295.37 L107.94,295.55 L108.33,295.75 L108.71,295.97 L109.10,296.19 L109.48,296.43 L109.87,296.69 L110.26,296.96 L110.64,297.25 L111.03,297.55 L111.41,297.88 L111.80,298.22 L112.18,298.58 L112.57,298.96 L112.95,299.36 L113.34,299.78 L113.72,300.23 L114.11,300.70 L114.50,301.21 L114.88,301.74 L115.27,302.31 L115.65,302.91 L116.04,303.55 L116.42,304.23 L116.81,304.96 L117.19,305.73 L117.58,306.56 L117.96,307.43 L118.35,308.36 L118.74,309.34 L119.12,310.38 L119.51,311.48 L119.89,312.65 L120.28,313.88 L120.66,315.18 L121.05,316.55 L121.43,318.00 L121.82,319.52 L122.21,321.12 L122.59,322.79 L122.98,324.53 L123.36,326.34 L123.75,328.21 L124.13,330.13 L124.52,332.11 L124.90,334.12 L125.29,336.17 L125.67,338.26 L126.06,340.37 L126.45,342.51 L126.83,344.67 L127.22,346.83 L127.60,349.01 L127.99,351.18 L128.37,353.35 L128.76,355.51 L129.14,357.66 L129.53,359.79 L129.91,361.90 L130.30,363.97 L130.69,366.01 L131.07,368.01 L131.46,369.96 L131.84,371.86 L132.23,373.71 L132.61,375.50 L133.00,377.23 L133.38,378.91 L133.77,380.53 L134.15,382.11 L134.54,383.63 L134.93,385.10 L135.31,386.52 L135.70,387.89 L136.08,389.22 L136.47,390.50 L136.85,391.73 L137.24,392.92 L137.62,394.06 L138.01,395.16 L138.39,396.22 L138.78,397.24 L139.17,398.22 L139.55,399.16 L139.94,400.06 L140.32,400.93 L140.71,401.76 L141.09,402.55 L141.48,403.31 L141.86,404.04 L142.25,404.74 L142.63,405.41 L143.02,406.05 L143.41,406.66 L143.79,407.25 L144.18,407.82 L144.56,408.36 L144.95,408.88 L145.33,409.38 L145.72,409.87 L146.10,410.34 L146.49,410.79 L146.87,411.24 L147.26,411.67 L147.65,412.08 L148.03,412.49 L148.42,412.90 L148.80,413.29 L149.19,413.69 L149.57,414.08 L149.96,414.46 L150.34,414.85 L150.73,415.24 L151.11,415.63 L151.50,416.02 L151.89,416.42 L152.27,416.82 L152.66,417.23 L153.04,417.63 L153.43,418.04 L153.81,418.45 L154.20,418.86 L154.58,419.28 L154.97,419.69 L155.35,420.11 L155.74,420.53 L156.13,420.95 L156.51,421.38 L156.90,421.80 L157.28,422.22 L157.67,422.65 L158.05,423.07 L158.44,423.50 L158.82,423.93 L159.21,424.35 L159.59,424.78 L159.98,425.20 L160.37,425.63 L160.75,426.05 L161.14,426.48 L161.52,426.90 L161.91,427.32 L162.29,427.74 L162.68,428.17 L163.06,428.59 L163.45,429.01 L163.84,429.42 L164.22,429.84 L164.61,430.26 L164.99,430.68 L165.38,431.09 L165.76,431.51 L166.15,431.93 L166.53,432.34 L166.92,432.76 L167.30,433.17 L167.69,433.58 L168.08,434.00 L168.46,434.41 L168.85,434.82 L169.23,435.23 L169.62,435.65 L170.00,436.06 L170.39,436.47 L170.77,436.88 L171.16,437.29 L171.54,437.70 L171.93,438.11 L172.32,438.52 L172.70,438.93 L173.09,439.34 L173.47,439.75 L173.86,440.16 L174.24,440.57 L174.63,440.98 L175.01,441.39 L175.40,441.80 L175.78,442.20 L176.17,442.61 L176.56,443.02 L176.94,443.43 L177.33,443.84 L177.71,444.25 L178.10,444.66 L178.48,445.07 L178.87,445.48 L179.25,445.89 L179.64,446.30 L180.02,446.71 L180.41,447.12 L180.80,447.53 L181.18,447.95 L181.57,448.36 L181.95,448.77 L182.34,449.18 L182.72,449.59 L183.11,450.00 L183.49,450.42 L183.88,450.83 L184.26,451.24 L184.65,451.66 L185.04,452.07 L185.42,452.48 L185.81,452.89 L186.19,453.31 L186.58,453.72 L186.96,454.14 L187.35,454.55 L187.73,454.96 L188.12,455.38 L188.50,455.79 L188.89,456.21 L189.28,456.62 L189.66,457.03 L190.05,457.45 L190.43,457.86 L190.82,458.28 L191.20,458.69 L191.59,459.11 L191.97,459.52 L192.36,459.93 L192.74,460.35 L193.13,460.76 L193.52,461.18 L193.90,461.59 L194.29,462.01 L194.67,462.42 L195.06,462.83 L195.44,463.25 L195.83,463.66 L196.21,464.08 L196.60,464.49 L196.98,464.90 L197.37,465.32 L197.76,465.73 L198.14,466.15 L198.53,466.56 L198.91,466.97 L199.30,467.39 L199.68,467.80 L200.07,468.21 L200.45,468.62 L200.84,469.04 L201.23,469.45 L201.61,469.86 L202.00,470.27 L202.38,470.68 L202.77,471.10 L203.15,471.51 L203.54,471.92 L203.92,472.33 L204.31,472.74 L204.69,473.15 L205.08,473.56 L205.47,473.97 L205.85,474.38 L206.24,474.79 L206.62,475.20 L207.01,475.61 L207.39,476.02 L207.78,476.43 L208.16,476.83 L208.55,477.24 L208.93,477.65 L209.32,478.06 L209.71,478.46 L210.09,478.87 L210.48,479.27 L210.86,479.68 L211.25,480.09 L211.63,480.49 L212.02,480.90 L212.40,481.30 L212.79,481.70 L213.17,482.11 L213.56,482.51 L213.95,482.91 L214.33,483.31 L214.72,483.72 L215.10,484.12 L215.49,484.52 L215.87,484.92 L216.26,485.32 L216.64,485.72 L217.03,486.12 L217.41,486.51 L217.80,486.91" fill="none" stroke="#ff0000" stroke-width="2.1" stroke-linejoin="round" stroke-linecap="butt" /><path d="M64.00,292.08 L64.61,292.09 L65.22,292.11 L65.82,292.13 L66.43,292.14 L67.04,292.16 L67.65,292.18 L68.26,292.20 L68.86,292.22 L69.47,292.24 L70.08,292.27 L70.69,292.29 L71.30,292.32 L71.90,292.35 L72.51,292.38 L73.12,292.41 L73.73,292.44 L74.34,292.48 L74.94,292.51 L75.55,292.55 L76.16,292.59 L76.77,292.63 L77.38,292.68 L77.98,292.72 L78.59,292.77 L79.20,292.82 L79.81,292.88 L80.42,292.93 L81.03,292.99 L81.63,293.06 L82.24,293.12 L82.85,293.19 L83.46,293.27 L84.07,293.35 L84.67,293.43 L85.28,293.51 L85.89,293.60 L86.50,293.70 L87.11,293.80 L87.71,293.90 L88.32,294.01 L88.93,294.13 L89.54,294.25 L90.15,294.38 L90.75,294.51 L91.36,294.65 L91.97,294.80 L92.58,294.96 L93.19,295.12 L93.79,295.29 L94.40,295.47 L95.01,295.66 L95.62,295.85 L96.23,296.06 L96.83,296.28 L97.44,296.50 L98.05,296.74 L98.66,296.99 L99.27,297.25 L99.87,297.52 L100.48,297.81 L101.09,298.10 L101.70,298.42 L102.31,298.74 L102.91,299.08 L103.52,299.44 L104.13,299.81 L104.74,300.19 L105.35,300.59 L105.95,301.01 L106.56,301.45 L107.17,301.91 L107.78,302.38 L108.39,302.87 L108.99,303.39 L109.60,303.92 L110.21,304.47 L110.82,305.05 L111.43,305.64 L112.04,306.26 L112.64,306.90 L113.25,307.56 L113.86,308.25 L114.47,308.95 L115.08,309.69 L115.68,310.44 L116.29,311.23 L116.90,312.03 L117.51,312.86 L118.12,313.72 L118.72,314.60 L119.33,315.50 L119.94,316.44 L120.55,317.39 L121.16,318.38 L121.76,319.38 L122.37,320.42 L122.98,321.48 L123.59,322.56 L124.20,323.67 L124.80,324.80 L125.41,325.96 L126.02,327.14 L126.63,328.35 L127.24,329.58 L127.84,330.84 L128.45,332.11 L129.06,333.41 L129.67,334.73 L130.28,336.08 L130.88,337.44 L131.49,338.83 L132.10,340.24 L132.71,341.66 L133.32,343.11 L133.92,344.58 L134.53,346.06 L135.14,347.56 L135.75,349.08 L136.36,350.62 L136.96,352.17 L137.57,353.74 L138.18,355.33 L138.79,356.93 L139.40,358.54 L140.01,360.17 L140.61,361.81 L141.22,363.47 L141.83,365.13 L142.44,366.81 L143.05,368.50 L143.65,370.21 L144.26,371.92 L144.87,373.64 L145.48,375.37 L146.09,377.12 L146.69,378.87 L147.30,380.63 L147.91,382.40 L148.52,384.17 L149.13,385.96 L149.73,387.75 L150.34,389.55 L150.95,391.35 L151.56,393.17 L152.17,394.98 L152.77,396.81 L153.38,398.64 L153.99,400.47 L154.60,402.31 L155.21,404.16 L155.81,406.00 L156.42,407.86 L157.03,409.72 L157.64,411.58 L158.25,413.44 L158.85,415.31 L159.46,417.19 L160.07,419.06 L160.68,420.94 L161.29,422.82 L161.89,424.71 L162.50,426.60 L163.11,428.49 L163.72,430.38 L164.33,432.27 L164.93,434.17 L165.54,436.07 L166.15,437.97 L166.76,439.87 L167.37,441.78 L167.97,443.69 L168.58,445.59 L169.19,447.50 L169.80,449.42 L170.41,451.33 L171.02,453.24 L171.62,455.16 L172.23,457.08 L172.84,458.99 L173.45,460.91 L174.06,462.83 L174.66,464.75 L175.27,466.67 L175.88,468.60 L176.49,470.52 L177.10,472.45 L177.70,474.37 L178.31,476.30 L178.92,478.22 L179.53,480.15 L180.14,482.08 L180.74,484.01 L181.35,485.94 L181.96,487.87 L182.57,489.80 L183.18,491.73 L183.78,493.66 L184.39,495.59 L185.00,497.52" fill="none" stroke="#0000ff" stroke-width="2.1" stroke-linejoin="round" stroke-linecap="butt" /></g><rect x="63.0" y="266.0" width="266.3" height="221.7" fill="none" stroke="#000" stroke-width="3.3"/><text x="4.75" y="290.70" font-family="Liberation Sans" font-weight="bold" font-style="normal" font-size="32" fill="#000" xml:space="preserve">c</text><text x="42.90" y="299.60" font-family="Liberation Serif" font-weight="normal" font-style="normal" font-size="25" fill="#000" xml:space="preserve">1</text><text x="25.25" y="384.30" font-family="Liberation Serif" font-weight="normal" font-style="normal" font-size="25" fill="#000" xml:space="preserve">0.1</text><text x="12.75" y="469.60" font-family="Liberation Serif" font-weight="normal" font-style="normal" font-size="25" fill="#000" xml:space="preserve">0.01</text><text x="37.67" y="512.60" font-family="Liberation Serif" font-weight="normal" font-style="normal" font-size="25" fill="#000" xml:space="preserve">-200</text><text x="109.35" y="512.60" font-family="Liberation Serif" font-weight="normal" font-style="normal" font-size="25" fill="#000" xml:space="preserve">0</text><text x="148.30" y="512.60" font-family="Liberation Serif" font-weight="normal" font-style="normal" font-size="25" fill="#000" xml:space="preserve">200</text><text x="201.51" y="512.60" font-family="Liberation Serif" font-weight="normal" font-style="normal" font-size="25" fill="#000" xml:space="preserve">400</text><text x="255.53" y="512.60" font-family="Liberation Serif" font-weight="normal" font-style="normal" font-size="25" fill="#000" xml:space="preserve">600</text><text x="308.75" y="512.60" font-family="Liberation Serif" font-weight="normal" font-style="normal" font-size="25" fill="#000" xml:space="preserve">800</text><text x="156.29" y="536.50" font-family="Liberation Serif" font-weight="normal" font-style="italic" font-size="25" fill="#000" xml:space="preserve">E</text><text x="171.56" y="536.50" font-family="Liberation Serif" font-weight="normal" font-style="normal" font-size="25" fill="#000" xml:space="preserve"> (µeV)</text><g transform="translate(18,370.3) rotate(-90)"><g transform="translate(-24.30,0.50) scale(1.0)"><path d="M1.3,3.9 C2.6,5.4 4.3,4.9 5.3,2.2 C6.8,-2 9.5,-10.5 11.2,-14.5 C12.2,-16.9 13.2,-18 14.2,-18 C14.9,-18 15.4,-17.4 15.3,-16.6" fill="none" stroke="#000" stroke-width="1.3" stroke-linecap="round"/><path d="M5.0,3.0 C6.8,-2 9.5,-10.5 11.0,-14.0" fill="none" stroke="#000" stroke-width="2.0" stroke-linecap="round"/><circle cx="1.5" cy="3.7" r="1.15" fill="#000"/><circle cx="15.0" cy="-16.5" r="1.15" fill="#000"/><path d="M6.0,-10.6 L12.1,-10.6" stroke="#000" stroke-width="1.2"/></g><text x="-7.40" y="0.00" font-family="Liberation Serif" font-weight="normal" font-style="normal" font-size="25" fill="#000" xml:space="preserve">(</text><text x="0.93" y="0.00" font-family="Liberation Serif" font-weight="normal" font-style="italic" font-size="25" fill="#000" xml:space="preserve">E</text><text x="16.20" y="0.00" font-family="Liberation Serif" font-weight="normal" font-style="normal" font-size="25" fill="#000" xml:space="preserve">)</text></g><text x="212.79" y="296.20" font-family="Liberation Serif" font-weight="normal" font-style="italic" font-size="22" fill="#000" xml:space="preserve">g</text><text x="223.79" y="296.20" font-family="Liberation Serif" font-weight="normal" font-style="normal" font-size="22" fill="#000" xml:space="preserve"> = 0.03</text><text x="202.95" y="324.60" font-family="Liberation Serif" font-weight="normal" font-style="italic" font-size="22" fill="#000" xml:space="preserve">V</text><text x="216.39" y="332.40" font-family="Liberation Serif" font-weight="normal" font-style="normal" font-size="16.5" fill="#000" xml:space="preserve">S</text><text x="225.57" y="324.60" font-family="Liberation Serif" font-weight="normal" font-style="normal" font-size="22" fill="#000" xml:space="preserve"> = 600 µV</text><text x="180.47" y="355.30" font-family="Liberation Serif" font-weight="normal" font-style="italic" font-size="22" fill="#000" xml:space="preserve">k</text><text x="190.23" y="362.60" font-family="Liberation Serif" font-weight="normal" font-style="normal" font-size="16.5" fill="#000" xml:space="preserve">B</text><text x="201.24" y="355.30" font-family="Liberation Serif" font-weight="normal" font-style="italic" font-size="22" fill="#000" xml:space="preserve">T</text><text x="213.47" y="362.60" font-family="Liberation Serif" font-weight="normal" font-style="normal" font-size="16.5" fill="#000" xml:space="preserve">B</text><text x="224.48" y="355.30" font-family="Liberation Serif" font-weight="normal" font-style="normal" font-size="22" fill="#000" xml:space="preserve"> = 15 µeV</text><g transform="translate(281.00,430.50) scale(1.0)"><path d="M1.3,3.9 C2.6,5.4 4.3,4.9 5.3,2.2 C6.8,-2 9.5,-10.5 11.2,-14.5 C12.2,-16.9 13.2,-18 14.2,-18 C14.9,-18 15.4,-17.4 15.3,-16.6" fill="none" stroke="#000" stroke-width="1.3" stroke-linecap="round"/><path d="M5.0,3.0 C6.8,-2 9.5,-10.5 11.0,-14.0" fill="none" stroke="#000" stroke-width="2.0" stroke-linecap="round"/><circle cx="1.5" cy="3.7" r="1.15" fill="#000"/><circle cx="15.0" cy="-16.5" r="1.15" fill="#000"/><path d="M6.0,-10.6 L12.1,-10.6" stroke="#000" stroke-width="1.2"/></g><text x="292.54" y="438.50" font-family="Liberation Serif" font-weight="normal" font-style="normal" font-size="18.5" fill="#000" xml:space="preserve">stp</text><g transform="translate(204.20,457.90) scale(1.0)"><path d="M1.3,3.9 C2.6,5.4 4.3,4.9 5.3,2.2 C6.8,-2 9.5,-10.5 11.2,-14.5 C12.2,-16.9 13.2,-18 14.2,-18 C14.9,-18 15.4,-17.4 15.3,-16.6" fill="none" stroke="#ff0000" stroke-width="1.3" stroke-linecap="round"/><path d="M5.0,3.0 C6.8,-2 9.5,-10.5 11.0,-14.0" fill="none" stroke="#ff0000" stroke-width="2.0" stroke-linecap="round"/><circle cx="1.5" cy="3.7" r="1.15" fill="#ff0000"/><circle cx="15.0" cy="-16.5" r="1.15" fill="#ff0000"/><path d="M6.0,-10.6 L12.1,-10.6" stroke="#ff0000" stroke-width="1.2"/></g><text x="216.50" y="465.90" font-family="Liberation Serif" font-weight="normal" font-style="normal" font-size="18.5" fill="#ff0000" xml:space="preserve">bin</text><g transform="translate(144.10,472.00) scale(1.0)"><path d="M1.3,3.9 C2.6,5.4 4.3,4.9 5.3,2.2 C6.8,-2 9.5,-10.5 11.2,-14.5 C12.2,-16.9 13.2,-18 14.2,-18 C14.9,-18 15.4,-17.4 15.3,-16.6" fill="none" stroke="#0000ff" stroke-width="1.3" stroke-linecap="round"/><path d="M5.0,3.0 C6.8,-2 9.5,-10.5 11.0,-14.0" fill="none" stroke="#0000ff" stroke-width="2.0" stroke-linecap="round"/><circle cx="1.5" cy="3.7" r="1.15" fill="#0000ff"/><circle cx="15.0" cy="-16.5" r="1.15" fill="#0000ff"/><path d="M6.0,-10.6 L12.1,-10.6" stroke="#0000ff" stroke-width="1.2"/></g><text x="156.22" y="480.00" font-family="Liberation Serif" font-weight="normal" font-style="normal" font-size="18.5" fill="#0000ff" xml:space="preserve">th</text><line x1="414.65" y1="431.76" x2="422.65" y2="431.76" stroke="#000" stroke-width="1.7" /><line x1="669.80" y1="431.76" x2="677.80" y2="431.76" stroke="#000" stroke-width="1.7" /><line x1="414.65" y1="376.63" x2="422.65" y2="376.63" stroke="#000" stroke-width="1.7" /><line x1="669.80" y1="376.63" x2="677.80" y2="376.63" stroke="#000" stroke-width="1.7" /><line x1="414.65" y1="321.50" x2="422.65" y2="321.50" stroke="#000" stroke-width="1.7" /><line x1="669.80" y1="321.50" x2="677.80" y2="321.50" stroke="#000" stroke-width="1.7" /><line x1="453.15" y1="485.30" x2="453.15" y2="480.80" stroke="#000" stroke-width="1.7" /><line x1="453.15" y1="267.60" x2="453.15" y2="272.10" stroke="#000" stroke-width="1.7" /><line x1="476.60" y1="485.30" x2="476.60" y2="480.80" stroke="#000" stroke-width="1.7" /><line x1="476.60" y1="267.60" x2="476.60" y2="272.10" stroke="#000" stroke-width="1.7" /><line x1="493.24" y1="485.30" x2="493.24" y2="480.80" stroke="#000" stroke-width="1.7" /><line x1="493.24" y1="267.60" x2="493.24" y2="272.10" stroke="#000" stroke-width="1.7" /><line x1="506.15" y1="485.30" x2="506.15" y2="480.80" stroke="#000" stroke-width="1.7" /><line x1="506.15" y1="267.60" x2="506.15" y2="272.10" stroke="#000" stroke-width="1.7" /><line x1="516.70" y1="485.30" x2="516.70" y2="480.80" stroke="#000" stroke-width="1.7" /><line x1="516.70" y1="267.60" x2="516.70" y2="272.10" stroke="#000" stroke-width="1.7" /><line x1="525.62" y1="485.30" x2="525.62" y2="480.80" stroke="#000" stroke-width="1.7" /><line x1="525.62" y1="267.60" x2="525.62" y2="272.10" stroke="#000" stroke-width="1.7" /><line x1="533.34" y1="485.30" x2="533.34" y2="480.80" stroke="#000" stroke-width="1.7" /><line x1="533.34" y1="267.60" x2="533.34" y2="272.10" stroke="#000" stroke-width="1.7" /><line x1="540.16" y1="485.30" x2="540.16" y2="480.80" stroke="#000" stroke-width="1.7" /><line x1="540.16" y1="267.60" x2="540.16" y2="272.10" stroke="#000" stroke-width="1.7" /><line x1="586.35" y1="485.30" x2="586.35" y2="480.80" stroke="#000" stroke-width="1.7" /><line x1="586.35" y1="267.60" x2="586.35" y2="272.10" stroke="#000" stroke-width="1.7" /><line x1="609.80" y1="485.30" x2="609.80" y2="480.80" stroke="#000" stroke-width="1.7" /><line x1="609.80" y1="267.60" x2="609.80" y2="272.10" stroke="#000" stroke-width="1.7" /><line x1="626.44" y1="485.30" x2="626.44" y2="480.80" stroke="#000" stroke-width="1.7" /><line x1="626.44" y1="267.60" x2="626.44" y2="272.10" stroke="#000" stroke-width="1.7" /><line x1="639.35" y1="485.30" x2="639.35" y2="480.80" stroke="#000" stroke-width="1.7" /><line x1="639.35" y1="267.60" x2="639.35" y2="272.10" stroke="#000" stroke-width="1.7" /><line x1="649.90" y1="485.30" x2="649.90" y2="480.80" stroke="#000" stroke-width="1.7" /><line x1="649.90" y1="267.60" x2="649.90" y2="272.10" stroke="#000" stroke-width="1.7" /><line x1="658.82" y1="485.30" x2="658.82" y2="480.80" stroke="#000" stroke-width="1.7" /><line x1="658.82" y1="267.60" x2="658.82" y2="272.10" stroke="#000" stroke-width="1.7" /><line x1="666.54" y1="485.30" x2="666.54" y2="480.80" stroke="#000" stroke-width="1.7" /><line x1="666.54" y1="267.60" x2="666.54" y2="272.10" stroke="#000" stroke-width="1.7" /><line x1="673.36" y1="485.30" x2="673.36" y2="480.80" stroke="#000" stroke-width="1.7" /><line x1="673.36" y1="267.60" x2="673.36" y2="272.10" stroke="#000" stroke-width="1.7" /><line x1="546.25" y1="485.30" x2="546.25" y2="477.30" stroke="#000" stroke-width="1.7" /><line x1="546.25" y1="267.60" x2="546.25" y2="275.60" stroke="#000" stroke-width="1.7" /><line x1="609.60" y1="267.60" x2="609.60" y2="485.20" stroke="#000" stroke-width="1.6" stroke-dasharray="6.6 5.9" stroke-dashoffset="1.8"/><clipPath id="cd"><rect x="414.7" y="267.7" width="263" height="218"/></clipPath><g clip-path="url(#cd)"><path d="M414.30,426.54 L414.90,426.44 L415.51,426.34 L416.11,426.24 L416.72,426.14 L417.32,426.04 L417.93,425.94 L418.53,425.85 L419.14,425.75 L419.74,425.66 L420.35,425.56 L420.95,425.46 L421.55,425.37 L422.16,425.28 L422.76,425.18 L423.37,425.09 L423.97,425.00 L424.58,424.91 L425.18,424.81 L425.79,424.72 L426.39,424.63 L426.99,424.54 L427.60,424.45 L428.20,424.36 L428.81,424.27 L429.41,424.17 L430.02,424.08 L430.62,423.99 L431.23,423.90 L431.83,423.81 L432.44,423.72 L433.04,423.63 L433.64,423.54 L434.25,423.45 L434.85,423.35 L435.46,423.26 L436.06,423.17 L436.67,423.08 L437.27,422.99 L437.88,422.89 L438.48,422.80 L439.08,422.71 L439.69,422.61 L440.29,422.52 L440.90,422.42 L441.50,422.33 L442.11,422.23 L442.71,422.14 L443.32,422.04 L443.92,421.94 L444.53,421.84 L445.13,421.74 L445.73,421.65 L446.34,421.55 L446.94,421.45 L447.55,421.34 L448.15,421.24 L448.76,421.14 L449.36,421.04 L449.97,420.93 L450.57,420.83 L451.18,420.72 L451.78,420.61 L452.38,420.51 L452.99,420.40 L453.59,420.29 L454.20,420.18 L454.80,420.07 L455.41,419.95 L456.01,419.84 L456.62,419.73 L457.22,419.61 L457.82,419.49 L458.43,419.38 L459.03,419.26 L459.64,419.14 L460.24,419.02 L460.85,418.90 L461.45,418.77 L462.06,418.65 L462.66,418.52 L463.27,418.40 L463.87,418.27 L464.47,418.14 L465.08,418.01 L465.68,417.88 L466.29,417.75 L466.89,417.61 L467.50,417.48 L468.10,417.34 L468.71,417.21 L469.31,417.07 L469.92,416.93 L470.52,416.78 L471.12,416.64 L471.73,416.50 L472.33,416.35 L472.94,416.20 L473.54,416.06 L474.15,415.91 L474.75,415.75 L475.36,415.60 L475.96,415.45 L476.56,415.29 L477.17,415.13 L477.77,414.97 L478.38,414.81 L478.98,414.65 L479.59,414.49 L480.19,414.32 L480.80,414.16 L481.40,413.99 L482.01,413.82 L482.61,413.65 L483.21,413.47 L483.82,413.30 L484.42,413.12 L485.03,412.95 L485.63,412.77 L486.24,412.58 L486.84,412.40 L487.45,412.22 L488.05,412.03 L488.65,411.84 L489.26,411.65 L489.86,411.46 L490.47,411.27 L491.07,411.08 L491.68,410.88 L492.28,410.68 L492.89,410.48 L493.49,410.28 L494.10,410.08 L494.70,409.87 L495.30,409.66 L495.91,409.46 L496.51,409.25 L497.12,409.03 L497.72,408.82 L498.33,408.60 L498.93,408.39 L499.54,408.17 L500.14,407.94 L500.75,407.72 L501.35,407.50 L501.95,407.27 L502.56,407.04 L503.16,406.81 L503.77,406.58 L504.37,406.34 L504.98,406.11 L505.58,405.87 L506.19,405.63 L506.79,405.39 L507.39,405.14 L508.00,404.90 L508.60,404.65 L509.21,404.40 L509.81,404.15 L510.42,403.90 L511.02,403.64 L511.63,403.38 L512.23,403.12 L512.84,402.86 L513.44,402.60 L514.04,402.33 L514.65,402.07 L515.25,401.80 L515.86,401.53 L516.46,401.25 L517.07,400.98 L517.67,400.70 L518.28,400.42 L518.88,400.14 L519.48,399.86 L520.09,399.57 L520.69,399.29 L521.30,399.00 L521.90,398.71 L522.51,398.41 L523.11,398.12 L523.72,397.82 L524.32,397.52 L524.93,397.22 L525.53,396.91 L526.13,396.61 L526.74,396.30 L527.34,395.99 L527.95,395.68 L528.55,395.37 L529.16,395.05 L529.76,394.73 L530.37,394.41 L530.97,394.09 L531.58,393.76 L532.18,393.44 L532.78,393.11 L533.39,392.78 L533.99,392.44 L534.60,392.11 L535.20,391.77 L535.81,391.43 L536.41,391.09 L537.02,390.75 L537.62,390.40 L538.22,390.05 L538.83,389.70 L539.43,389.35 L540.04,388.99 L540.64,388.64 L541.25,388.28 L541.85,387.92 L542.46,387.55 L543.06,387.19 L543.67,386.82 L544.27,386.45 L544.87,386.08 L545.48,385.70 L546.08,385.32 L546.69,384.95 L547.29,384.56 L547.90,384.18 L548.50,383.79 L549.11,383.41 L549.71,383.02 L550.32,382.62 L550.92,382.23 L551.52,381.83 L552.13,381.43 L552.73,381.03 L553.34,380.62 L553.94,380.22 L554.55,379.81 L555.15,379.40 L555.76,378.98 L556.36,378.56 L556.96,378.15 L557.57,377.73 L558.17,377.30 L558.78,376.88 L559.38,376.45 L559.99,376.02 L560.59,375.58 L561.20,375.15 L561.80,374.71 L562.41,374.27 L563.01,373.83 L563.61,373.38 L564.22,372.93 L564.82,372.48 L565.43,372.03 L566.03,371.58 L566.64,371.12 L567.24,370.66 L567.85,370.20 L568.45,369.73 L569.05,369.26 L569.66,368.79 L570.26,368.32 L570.87,367.84 L571.47,367.37 L572.08,366.88 L572.68,366.40 L573.29,365.92 L573.89,365.43 L574.50,364.94 L575.10,364.44 L575.70,363.95 L576.31,363.45 L576.91,362.94 L577.52,362.44 L578.12,361.93 L578.73,361.42 L579.33,360.91 L579.94,360.39 L580.54,359.88 L581.15,359.35 L581.75,358.83 L582.35,358.30 L582.96,357.77 L583.56,357.24 L584.17,356.71 L584.77,356.17 L585.38,355.63 L585.98,355.08 L586.59,354.54 L587.19,353.99 L587.79,353.44 L588.40,352.88 L589.00,352.32 L589.61,351.76 L590.21,351.20 L590.82,350.63 L591.42,350.06 L592.03,349.48 L592.63,348.91 L593.24,348.33 L593.84,347.74 L594.44,347.16 L595.05,346.57 L595.65,345.98 L596.26,345.38 L596.86,344.78 L597.47,344.18 L598.07,343.58 L598.68,342.97 L599.28,342.36 L599.88,341.74 L600.49,341.13 L601.09,340.50 L601.70,339.88 L602.30,339.25 L602.91,338.62 L603.51,337.99 L604.12,337.35 L604.72,336.71 L605.33,336.06 L605.93,335.41 L606.53,334.76 L607.14,334.10 L607.74,333.44 L608.35,332.78 L608.95,332.12 L609.56,331.45 L610.16,330.77 L610.77,330.09 L611.37,329.41 L611.98,328.73 L612.58,328.04 L613.18,327.35 L613.79,326.65 L614.39,325.95 L615.00,325.25 L615.60,324.54 L616.21,323.83 L616.81,323.11 L617.42,322.39 L618.02,321.67 L618.62,320.94 L619.23,320.21 L619.83,319.48 L620.44,318.74 L621.04,317.99 L621.65,317.25 L622.25,316.49 L622.86,315.74 L623.46,314.98 L624.07,314.21 L624.67,313.44 L625.27,312.67 L625.88,311.89 L626.48,311.11 L627.09,310.32 L627.69,309.53 L628.30,308.74 L628.90,307.94 L629.51,307.13 L630.11,306.32 L630.72,305.51 L631.32,304.69 L631.92,303.87 L632.53,303.04 L633.13,302.21 L633.74,301.37 L634.34,300.53 L634.95,299.68 L635.55,298.83 L636.16,297.97 L636.76,297.11 L637.36,296.24 L637.97,295.37 L638.57,294.49 L639.18,293.61 L639.78,292.72 L640.39,291.83 L640.99,290.93 L641.60,290.02 L642.20,289.11 L642.81,288.20 L643.41,287.28 L644.01,286.36 L644.62,285.42 L645.22,284.49 L645.83,283.55 L646.43,282.60 L647.04,281.65 L647.64,280.69 L648.25,279.72 L648.85,278.75 L649.45,277.77 L650.06,276.79 L650.66,275.80 L651.27,274.81 L651.87,273.81 L652.48,272.80 L653.08,271.79 L653.69,270.77 L654.29,269.74 L654.90,268.71 L655.50,267.68" fill="none" stroke="#0000ff" stroke-width="3.6" stroke-linejoin="round" stroke-linecap="butt" /><path d="M414.30,428.23 L414.92,428.22 L415.54,428.20 L416.17,428.18 L416.79,428.15 L417.41,428.13 L418.03,428.10 L418.65,428.06 L419.28,428.03 L419.90,428.00 L420.52,427.96 L421.14,427.92 L421.76,427.87 L422.39,427.83 L423.01,427.78 L423.63,427.73 L424.25,427.68 L424.87,427.63 L425.50,427.58 L426.12,427.52 L426.74,427.46 L427.36,427.40 L427.99,427.34 L428.61,427.27 L429.23,427.21 L429.85,427.14 L430.47,427.07 L431.10,427.00 L431.72,426.93 L432.34,426.86 L432.96,426.78 L433.58,426.70 L434.21,426.63 L434.83,426.55 L435.45,426.47 L436.07,426.38 L436.69,426.30 L437.32,426.22 L437.94,426.13 L438.56,426.04 L439.18,425.95 L439.80,425.86 L440.43,425.77 L441.05,425.68 L441.67,425.59 L442.29,425.50 L442.91,425.40 L443.54,425.30 L444.16,425.21 L444.78,425.11 L445.40,425.01 L446.02,424.91 L446.65,424.81 L447.27,424.71 L447.89,424.60 L448.51,424.50 L449.14,424.40 L449.76,424.29 L450.38,424.18 L451.00,424.08 L451.62,423.97 L452.25,423.86 L452.87,423.75 L453.49,423.64 L454.11,423.53 L454.73,423.42 L455.36,423.31 L455.98,423.19 L456.60,423.08 L457.22,422.96 L457.84,422.85 L458.47,422.73 L459.09,422.62 L459.71,422.50 L460.33,422.38 L460.95,422.27 L461.58,422.15 L462.20,422.03 L462.82,421.91 L463.44,421.79 L464.06,421.67 L464.69,421.54 L465.31,421.42 L465.93,421.30 L466.55,421.18 L467.17,421.05 L467.80,420.93 L468.42,420.80 L469.04,420.68 L469.66,420.55 L470.28,420.42 L470.91,420.30 L471.53,420.17 L472.15,420.04 L472.77,419.91 L473.40,419.78 L474.02,419.65 L474.64,419.52 L475.26,419.39 L475.88,419.26 L476.51,419.13 L477.13,419.00 L477.75,418.86 L478.37,418.73 L478.99,418.59 L479.62,418.46 L480.24,418.32 L480.86,418.19 L481.48,418.05 L482.10,417.91 L482.73,417.78 L483.35,417.64 L483.97,417.50 L484.59,417.36 L485.21,417.22 L485.84,417.08 L486.46,416.94 L487.08,416.80 L487.70,416.65 L488.32,416.51 L488.95,416.37 L489.57,416.22 L490.19,416.08 L490.81,415.93 L491.43,415.78 L492.06,415.63 L492.68,415.49 L493.30,415.34 L493.92,415.19 L494.55,415.04 L495.17,414.89 L495.79,414.73 L496.41,414.58 L497.03,414.43 L497.66,414.27 L498.28,414.12 L498.90,413.96 L499.52,413.80 L500.14,413.64 L500.77,413.49 L501.39,413.33 L502.01,413.16 L502.63,413.00 L503.25,412.84 L503.88,412.68 L504.50,412.51 L505.12,412.34 L505.74,412.18 L506.36,412.01 L506.99,411.84 L507.61,411.67 L508.23,411.50 L508.85,411.33 L509.47,411.15 L510.10,410.98 L510.72,410.80 L511.34,410.62 L511.96,410.44 L512.58,410.26 L513.21,410.08 L513.83,409.90 L514.45,409.72 L515.07,409.53 L515.69,409.35 L516.32,409.16 L516.94,408.97 L517.56,408.78 L518.18,408.58 L518.81,408.39 L519.43,408.20 L520.05,408.00 L520.67,407.80 L521.29,407.60 L521.92,407.40 L522.54,407.20 L523.16,406.99 L523.78,406.78 L524.40,406.58 L525.03,406.37 L525.65,406.15 L526.27,405.94 L526.89,405.73 L527.51,405.51 L528.14,405.29 L528.76,405.07 L529.38,404.85 L530.00,404.62 L530.62,404.39 L531.25,404.17 L531.87,403.94 L532.49,403.70 L533.11,403.47 L533.73,403.23 L534.36,402.99 L534.98,402.75 L535.60,402.51 L536.22,402.26 L536.84,402.02 L537.47,401.77 L538.09,401.51 L538.71,401.26 L539.33,401.00 L539.96,400.74 L540.58,400.48 L541.20,400.22 L541.82,399.95 L542.44,399.68 L543.07,399.41 L543.69,399.14 L544.31,398.86 L544.93,398.58 L545.55,398.30 L546.18,398.01 L546.80,397.73 L547.42,397.44 L548.04,397.15 L548.66,396.85 L549.29,396.55 L549.91,396.25 L550.53,395.95 L551.15,395.64 L551.77,395.33 L552.40,395.02 L553.02,394.70 L553.64,394.38 L554.26,394.06 L554.88,393.74 L555.51,393.41 L556.13,393.08 L556.75,392.75 L557.37,392.41 L557.99,392.07 L558.62,391.72 L559.24,391.38 L559.86,391.03 L560.48,390.67 L561.11,390.32 L561.73,389.96 L562.35,389.59 L562.97,389.23 L563.59,388.85 L564.22,388.48 L564.84,388.10 L565.46,387.72 L566.08,387.34 L566.70,386.95 L567.33,386.56 L567.95,386.16 L568.57,385.76 L569.19,385.36 L569.81,384.95 L570.44,384.54 L571.06,384.12 L571.68,383.71 L572.30,383.28 L572.92,382.86 L573.55,382.43 L574.17,381.99 L574.79,381.55 L575.41,381.11 L576.03,380.66 L576.66,380.21 L577.28,379.76 L577.90,379.30 L578.52,378.83 L579.14,378.37 L579.77,377.90 L580.39,377.42 L581.01,376.94 L581.63,376.45 L582.25,375.97 L582.88,375.47 L583.50,374.97 L584.12,374.47 L584.74,373.96 L585.37,373.45 L585.99,372.94 L586.61,372.42 L587.23,371.89 L587.85,371.36 L588.48,370.83 L589.10,370.29 L589.72,369.74 L590.34,369.19 L590.96,368.64 L591.59,368.08 L592.21,367.52 L592.83,366.95 L593.45,366.38 L594.07,365.80 L594.70,365.22 L595.32,364.63 L595.94,364.04 L596.56,363.44 L597.18,362.84 L597.81,362.23 L598.43,361.62 L599.05,361.00 L599.67,360.38 L600.29,359.75 L600.92,359.12 L601.54,358.48 L602.16,357.83 L602.78,357.18 L603.40,356.53 L604.03,355.87 L604.65,355.20 L605.27,354.53 L605.89,353.86 L606.52,353.18 L607.14,352.49 L607.76,351.80 L608.38,351.10 L609.00,350.40 L609.63,349.69 L610.25,348.97 L610.87,348.25 L611.49,347.53 L612.11,346.80 L612.74,346.06 L613.36,345.32 L613.98,344.57 L614.60,343.82 L615.22,343.06 L615.85,342.29 L616.47,341.52 L617.09,340.75 L617.71,339.96 L618.33,339.18 L618.96,338.38 L619.58,337.58 L620.20,336.78 L620.82,335.96 L621.44,335.15 L622.07,334.32 L622.69,333.49 L623.31,332.66 L623.93,331.82 L624.55,330.97 L625.18,330.12 L625.80,329.26 L626.42,328.39 L627.04,327.52 L627.66,326.64 L628.29,325.76 L628.91,324.87 L629.53,323.97 L630.15,323.07 L630.78,322.16 L631.40,321.25 L632.02,320.33 L632.64,319.40 L633.26,318.47 L633.89,317.53 L634.51,316.58 L635.13,315.63 L635.75,314.68 L636.37,313.71 L637.00,312.74 L637.62,311.76 L638.24,310.78 L638.86,309.79 L639.48,308.80 L640.11,307.80 L640.73,306.79 L641.35,305.77 L641.97,304.75 L642.59,303.73 L643.22,302.69 L643.84,301.65 L644.46,300.61 L645.08,299.55 L645.70,298.50 L646.33,297.43 L646.95,296.36 L647.57,295.28 L648.19,294.20 L648.81,293.11 L649.44,292.01 L650.06,290.91 L650.68,289.80 L651.30,288.68 L651.93,287.56 L652.55,286.43 L653.17,285.29 L653.79,284.15 L654.41,283.00 L655.04,281.85 L655.66,280.69 L656.28,279.52 L656.90,278.34 L657.52,277.16 L658.15,275.98 L658.77,274.78 L659.39,273.58 L660.01,272.38 L660.63,271.17 L661.26,269.95 L661.88,268.72 L662.50,267.49" fill="none" stroke="#000" stroke-width="3.6" stroke-linejoin="round" stroke-linecap="butt" /><path d="M414.30,428.80 L414.93,428.78 L415.56,428.75 L416.19,428.72 L416.82,428.69 L417.46,428.66 L418.09,428.63 L418.72,428.60 L419.35,428.56 L419.98,428.52 L420.61,428.49 L421.24,428.45 L421.87,428.40 L422.50,428.36 L423.14,428.32 L423.77,428.27 L424.40,428.23 L425.03,428.18 L425.66,428.13 L426.29,428.08 L426.92,428.03 L427.55,427.97 L428.18,427.92 L428.81,427.86 L429.45,427.81 L430.08,427.75 L430.71,427.69 L431.34,427.63 L431.97,427.57 L432.60,427.51 L433.23,427.44 L433.86,427.38 L434.49,427.31 L435.13,427.25 L435.76,427.18 L436.39,427.11 L437.02,427.04 L437.65,426.97 L438.28,426.90 L438.91,426.83 L439.54,426.75 L440.17,426.68 L440.81,426.60 L441.44,426.53 L442.07,426.45 L442.70,426.37 L443.33,426.29 L443.96,426.21 L444.59,426.13 L445.22,426.05 L445.85,425.97 L446.48,425.88 L447.12,425.80 L447.75,425.71 L448.38,425.63 L449.01,425.54 L449.64,425.45 L450.27,425.36 L450.90,425.27 L451.53,425.18 L452.16,425.09 L452.80,425.00 L453.43,424.91 L454.06,424.82 L454.69,424.72 L455.32,424.63 L455.95,424.53 L456.58,424.44 L457.21,424.34 L457.84,424.24 L458.48,424.14 L459.11,424.04 L459.74,423.94 L460.37,423.84 L461.00,423.74 L461.63,423.64 L462.26,423.54 L462.89,423.43 L463.52,423.33 L464.16,423.22 L464.79,423.12 L465.42,423.01 L466.05,422.90 L466.68,422.79 L467.31,422.68 L467.94,422.57 L468.57,422.46 L469.20,422.35 L469.83,422.24 L470.47,422.13 L471.10,422.01 L471.73,421.90 L472.36,421.78 L472.99,421.67 L473.62,421.55 L474.25,421.43 L474.88,421.31 L475.51,421.19 L476.15,421.07 L476.78,420.95 L477.41,420.83 L478.04,420.71 L478.67,420.58 L479.30,420.46 L479.93,420.33 L480.56,420.21 L481.19,420.08 L481.83,419.95 L482.46,419.82 L483.09,419.70 L483.72,419.56 L484.35,419.43 L484.98,419.30 L485.61,419.17 L486.24,419.03 L486.87,418.90 L487.51,418.76 L488.14,418.62 L488.77,418.49 L489.40,418.35 L490.03,418.21 L490.66,418.07 L491.29,417.92 L491.92,417.78 L492.55,417.64 L493.18,417.49 L493.82,417.34 L494.45,417.20 L495.08,417.05 L495.71,416.90 L496.34,416.75 L496.97,416.60 L497.60,416.44 L498.23,416.29 L498.86,416.13 L499.50,415.98 L500.13,415.82 L500.76,415.66 L501.39,415.50 L502.02,415.34 L502.65,415.18 L503.28,415.01 L503.91,414.85 L504.54,414.68 L505.18,414.51 L505.81,414.34 L506.44,414.17 L507.07,414.00 L507.70,413.83 L508.33,413.65 L508.96,413.48 L509.59,413.30 L510.22,413.12 L510.85,412.94 L511.49,412.76 L512.12,412.57 L512.75,412.39 L513.38,412.20 L514.01,412.01 L514.64,411.82 L515.27,411.63 L515.90,411.44 L516.53,411.24 L517.17,411.05 L517.80,410.85 L518.43,410.65 L519.06,410.45 L519.69,410.24 L520.32,410.04 L520.95,409.83 L521.58,409.62 L522.21,409.41 L522.85,409.20 L523.48,408.99 L524.11,408.77 L524.74,408.55 L525.37,408.33 L526.00,408.11 L526.63,407.89 L527.26,407.66 L527.89,407.44 L528.53,407.21 L529.16,406.98 L529.79,406.74 L530.42,406.51 L531.05,406.27 L531.68,406.03 L532.31,405.79 L532.94,405.54 L533.57,405.30 L534.20,405.05 L534.84,404.80 L535.47,404.54 L536.10,404.29 L536.73,404.03 L537.36,403.77 L537.99,403.51 L538.62,403.24 L539.25,402.98 L539.88,402.71 L540.52,402.43 L541.15,402.16 L541.78,401.88 L542.41,401.60 L543.04,401.32 L543.67,401.04 L544.30,400.75 L544.93,400.46 L545.56,400.17 L546.20,399.87 L546.83,399.58 L547.46,399.28 L548.09,398.97 L548.72,398.67 L549.35,398.36 L549.98,398.05 L550.61,397.73 L551.24,397.42 L551.87,397.10 L552.51,396.77 L553.14,396.45 L553.77,396.12 L554.40,395.79 L555.03,395.45 L555.66,395.12 L556.29,394.78 L556.92,394.43 L557.55,394.08 L558.19,393.74 L558.82,393.38 L559.45,393.03 L560.08,392.67 L560.71,392.30 L561.34,391.94 L561.97,391.57 L562.60,391.20 L563.23,390.82 L563.87,390.44 L564.50,390.06 L565.13,389.67 L565.76,389.28 L566.39,388.89 L567.02,388.50 L567.65,388.10 L568.28,387.69 L568.91,387.29 L569.55,386.88 L570.18,386.46 L570.81,386.05 L571.44,385.62 L572.07,385.20 L572.70,384.77 L573.33,384.34 L573.96,383.90 L574.59,383.46 L575.22,383.02 L575.86,382.57 L576.49,382.12 L577.12,381.67 L577.75,381.21 L578.38,380.74 L579.01,380.28 L579.64,379.81 L580.27,379.33 L580.90,378.85 L581.54,378.37 L582.17,377.88 L582.80,377.39 L583.43,376.90 L584.06,376.40 L584.69,375.89 L585.32,375.39 L585.95,374.88 L586.58,374.36 L587.22,373.84 L587.85,373.31 L588.48,372.78 L589.11,372.25 L589.74,371.71 L590.37,371.17 L591.00,370.62 L591.63,370.07 L592.26,369.52 L592.89,368.96 L593.53,368.39 L594.16,367.82 L594.79,367.25 L595.42,366.67 L596.05,366.09 L596.68,365.50 L597.31,364.91 L597.94,364.31 L598.57,363.71 L599.21,363.10 L599.84,362.49 L600.47,361.87 L601.10,361.25 L601.73,360.63 L602.36,360.00 L602.99,359.36 L603.62,358.72 L604.25,358.07 L604.89,357.42 L605.52,356.77 L606.15,356.11 L606.78,355.44 L607.41,354.77 L608.04,354.10 L608.67,353.42 L609.30,352.73 L609.93,352.04 L610.57,351.34 L611.20,350.64 L611.83,349.93 L612.46,349.22 L613.09,348.50 L613.72,347.78 L614.35,347.05 L614.98,346.32 L615.61,345.58 L616.24,344.84 L616.88,344.09 L617.51,343.33 L618.14,342.57 L618.77,341.81 L619.40,341.04 L620.03,340.26 L620.66,339.48 L621.29,338.69 L621.92,337.90 L622.56,337.10 L623.19,336.29 L623.82,335.48 L624.45,334.67 L625.08,333.85 L625.71,333.02 L626.34,332.19 L626.97,331.35 L627.60,330.50 L628.24,329.65 L628.87,328.80 L629.50,327.93 L630.13,327.07 L630.76,326.19 L631.39,325.31 L632.02,324.43 L632.65,323.54 L633.28,322.64 L633.92,321.73 L634.55,320.83 L635.18,319.91 L635.81,318.99 L636.44,318.06 L637.07,317.13 L637.70,316.19 L638.33,315.24 L638.96,314.29 L639.59,313.33 L640.23,312.37 L640.86,311.40 L641.49,310.42 L642.12,309.44 L642.75,308.45 L643.38,307.46 L644.01,306.46 L644.64,305.45 L645.27,304.44 L645.91,303.42 L646.54,302.39 L647.17,301.36 L647.80,300.32 L648.43,299.27 L649.06,298.22 L649.69,297.16 L650.32,296.10 L650.95,295.03 L651.59,293.95 L652.22,292.87 L652.85,291.78 L653.48,290.68 L654.11,289.58 L654.74,288.47 L655.37,287.36 L656.00,286.23 L656.63,285.10 L657.26,283.97 L657.90,282.83 L658.53,281.68 L659.16,280.52 L659.79,279.36 L660.42,278.19 L661.05,277.02 L661.68,275.84 L662.31,274.65 L662.94,273.46 L663.58,272.25 L664.21,271.05 L664.84,269.83 L665.47,268.61 L666.10,267.38" fill="none" stroke="#ff0000" stroke-width="3.6" stroke-linejoin="round" stroke-linecap="butt" /></g><rect x="413.05" y="266.0" width="266.34999999999997" height="220.89999999999998" fill="none" stroke="#000" stroke-width="3.3"/><path d="M617.7,333.5 Q619.5,329.8 622.5,330.8 Q628,333 634,341.7" fill="none" stroke="#000" stroke-width="1.4"/><line x1="584.00" y1="376.40" x2="591.10" y2="383.60" stroke="#ff0000" stroke-width="1.3" /><text x="354.89" y="291.40" font-family="Liberation Sans" font-weight="bold" font-style="normal" font-size="32" fill="#000" xml:space="preserve">d</text><text x="368.65" y="330.10" font-family="Liberation Serif" font-weight="normal" font-style="normal" font-size="25" fill="#000" xml:space="preserve">150</text><text x="368.65" y="385.30" font-family="Liberation Serif" font-weight="normal" font-style="normal" font-size="25" fill="#000" xml:space="preserve">100</text><text x="381.15" y="440.80" font-family="Liberation Serif" font-weight="normal" font-style="normal" font-size="25" fill="#000" xml:space="preserve">50</text><text x="390.45" y="495.20" font-family="Liberation Serif" font-weight="normal" font-style="normal" font-size="25" fill="#000" xml:space="preserve">0</text><text x="390.05" y="512.20" font-family="Liberation Serif" font-weight="normal" font-style="normal" font-size="25" fill="#000" xml:space="preserve">0.001</text><text x="520.65" y="512.20" font-family="Liberation Serif" font-weight="normal" font-style="normal" font-size="25" fill="#000" xml:space="preserve">0.01</text><text x="655.05" y="512.20" font-family="Liberation Serif" font-weight="normal" font-style="normal" font-size="25" fill="#000" xml:space="preserve">0.1</text><text x="535.68" y="532.80" font-family="Liberation Serif" font-weight="normal" font-style="normal" font-size="27" fill="#000" xml:space="preserve">g</text><g transform="translate(361,371.7) rotate(-90)"><text x="-58.95" y="0.00" font-family="Liberation Serif" font-weight="normal" font-style="italic" font-size="25" fill="#000" xml:space="preserve">S</text><text x="-46.45" y="0.00" font-family="Liberation Serif" font-weight="normal" font-style="normal" font-size="25" fill="#000" xml:space="preserve"> (arb. unit)</text></g><text x="434.15" y="302.60" font-family="Liberation Serif" font-weight="normal" font-style="italic" font-size="22" fill="#000" xml:space="preserve">V</text><text x="447.59" y="310.40" font-family="Liberation Serif" font-weight="normal" font-style="normal" font-size="16.5" fill="#000" xml:space="preserve">S</text><text x="456.77" y="302.60" font-family="Liberation Serif" font-weight="normal" font-style="normal" font-size="22" fill="#000" xml:space="preserve"> = 600 µV</text><text x="440.37" y="458.00" font-family="Liberation Serif" font-weight="normal" font-style="italic" font-size="22" fill="#000" xml:space="preserve">k</text><text x="450.13" y="465.30" font-family="Liberation Serif" font-weight="normal" font-style="normal" font-size="16.5" fill="#000" xml:space="preserve">B</text><text x="461.14" y="458.00" font-family="Liberation Serif" font-weight="normal" font-style="italic" font-size="22" fill="#000" xml:space="preserve">T</text><text x="473.37" y="465.30" font-family="Liberation Serif" font-weight="normal" font-style="normal" font-size="16.5" fill="#000" xml:space="preserve">B</text><text x="484.38" y="458.00" font-family="Liberation Serif" font-weight="normal" font-style="normal" font-size="22" fill="#000" xml:space="preserve"> = 15 µeV</text><text x="564.21" y="336.00" font-family="Liberation Serif" font-weight="normal" font-style="italic" font-size="25" fill="#0000ff" xml:space="preserve">S</text><text x="576.71" y="344.00" font-family="Liberation Serif" font-weight="normal" font-style="normal" font-size="18.5" fill="#0000ff" xml:space="preserve">th</text><text x="632.71" y="359.80" font-family="Liberation Serif" font-weight="normal" font-style="italic" font-size="25" fill="#000" xml:space="preserve">S</text><text x="645.21" y="367.80" font-family="Liberation Serif" font-weight="normal" font-style="normal" font-size="18.5" fill="#000" xml:space="preserve">stp</text><rect x="591" y="373.2" width="38" height="42.2" fill="#fff"/><text x="591.91" y="397.30" font-family="Liberation Serif" font-weight="normal" font-style="italic" font-size="25" fill="#ff0000" xml:space="preserve">S</text><text x="604.41" y="405.30" font-family="Liberation Serif" font-weight="normal" font-style="normal" font-size="18.5" fill="#ff0000" xml:space="preserve">bin</text></svg></body></html>
